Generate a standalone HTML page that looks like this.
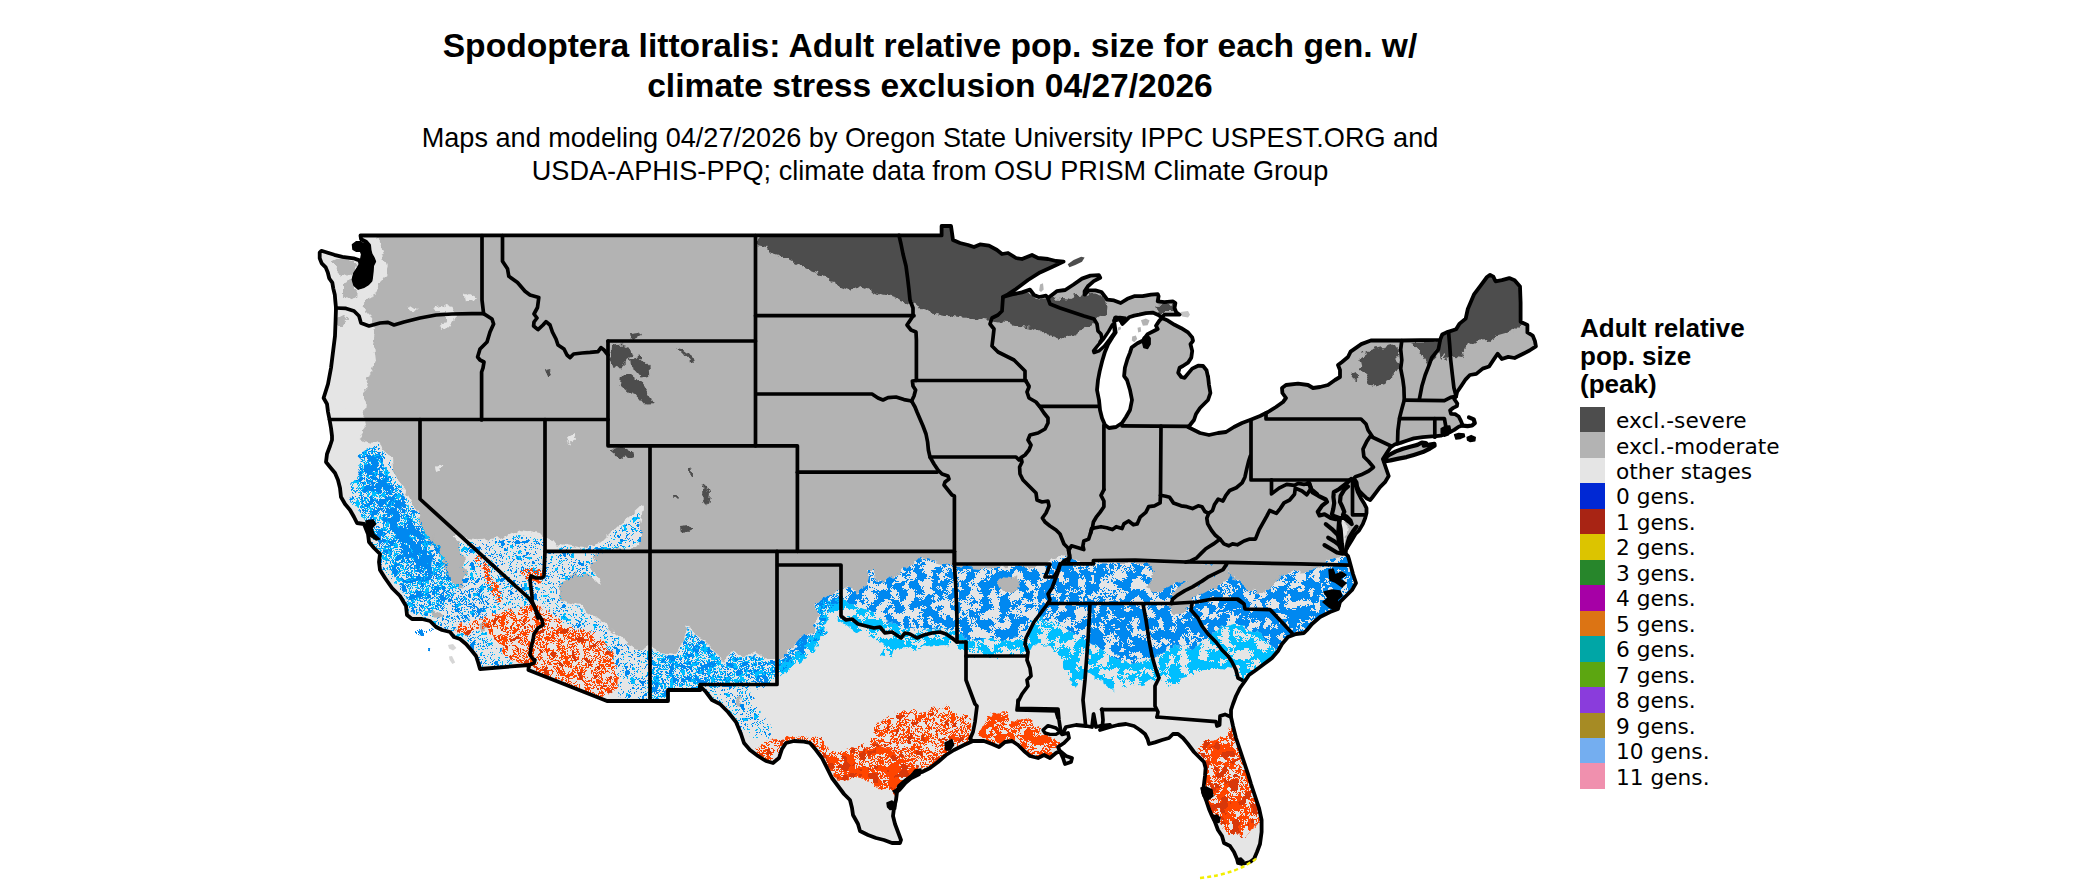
<!DOCTYPE html>
<html><head><meta charset="utf-8"><title>Spodoptera littoralis</title>
<style>
html,body{margin:0;padding:0;background:#fff}
body{width:2100px;height:892px;position:relative;overflow:hidden;font-family:"Liberation Sans",sans-serif;color:#000}
.t{position:absolute;left:330px;width:1200px;text-align:center;white-space:nowrap}
.title{font-weight:bold;font-size:33.6px;line-height:40px;top:26px}
.sub{font-size:27.1px;line-height:32.5px;top:122px}
.lt{position:absolute;left:1580px;top:314px;font-weight:bold;font-size:26px;line-height:28px;white-space:nowrap}
.sw{position:absolute;left:1580px;width:25px;height:25.77px}
.lb{position:absolute;left:1616px;height:25.47px;line-height:25.47px;font-family:"DejaVu Sans",sans-serif;font-size:21.7px;padding-top:1.2px;white-space:nowrap}
</style></head><body>
<div class="t title">Spodoptera littoralis: Adult relative pop. size for each gen. w/<br>climate stress exclusion 04/27/2026</div>
<div class="t sub">Maps and modeling 04/27/2026 by Oregon State University IPPC USPEST.ORG and<br>USDA-APHIS-PPQ; climate data from OSU PRISM Climate Group</div>
<svg width="2100" height="892" viewBox="0 0 2100 892" style="position:absolute;left:0;top:0"><defs><clipPath id="land"><path d="M360.5,235.5 L941.6,235.4 L941.6,226.0 L951.0,226.0 L953.0,240.0 L960.0,243.0 L968.0,245.0 L974.0,247.0 L980.0,244.4 L989.0,245.6 L997.0,250.0 L1002.0,254.0 L1008.0,253.0 L1016.0,258.0 L1022.0,259.0 L1032.0,255.0 L1038.0,258.0 L1048.0,259.0 L1056.0,261.0 L1063.6,261.6 L1052.0,267.0 L1040.0,272.4 L1028.0,280.0 L1016.0,289.0 L1008.0,294.4 L1003.0,297.0 L1012.0,294.4 L1022.0,292.4 L1030.0,289.6 L1034.0,295.0 L1039.0,297.0 L1046.0,295.6 L1048.0,298.0 L1056.8,291.2 L1065.2,290.0 L1073.6,284.5 L1082.0,278.6 L1090.4,275.6 L1098.9,275.2 L1100.2,277.7 L1093.8,281.1 L1087.9,286.2 L1084.6,291.2 L1084.6,294.6 L1088.8,290.4 L1095.5,290.4 L1101.4,292.0 L1104.7,296.2 L1107.3,299.6 L1114.0,300.4 L1120.7,303.0 L1127.4,298.8 L1134.2,296.2 L1142.6,296.2 L1151.0,294.6 L1157.7,294.1 L1158.6,296.2 L1157.7,301.3 L1164.4,302.1 L1172.8,301.3 L1175.4,303.0 L1174.5,308.0 L1176.2,312.2 L1179.6,314.7 L1172.8,314.7 L1164.4,314.7 L1161.9,317.3 L1157.7,314.7 L1152.7,312.6 L1145.9,313.1 L1139.2,314.7 L1134.2,315.6 L1129.1,317.3 L1125.8,320.6 L1122.4,324.0 L1119.9,318.1 L1115.7,317.3 L1114.0,320.6 L1115.7,332.4 L1112.3,337.4 L1108.1,344.2 L1104.7,352.6 L1102.2,361.0 L1099.7,371.1 L1098.0,380.0 L1097.0,390.0 L1099.0,400.0 L1100.0,410.0 L1102.0,418.0 L1105.0,425.0 L1109.0,428.0 L1116.0,427.0 L1122.0,423.0 L1126.0,417.0 L1130.0,410.0 L1132.0,400.0 L1130.0,390.0 L1127.0,380.0 L1124.1,376.1 L1124.9,367.7 L1127.4,359.3 L1130.0,352.6 L1131.6,347.5 L1137.5,343.3 L1142.6,340.8 L1147.6,334.1 L1154.3,330.7 L1157.7,329.0 L1156.0,325.7 L1159.4,320.6 L1161.9,318.1 L1167.8,320.6 L1174.5,324.8 L1181.3,328.2 L1188.0,332.4 L1192.2,337.4 L1193.0,340.8 L1190.5,344.2 L1192.2,350.9 L1191.3,357.6 L1188.0,362.7 L1182.9,366.0 L1179.6,367.7 L1178.2,372.8 L1181.3,377.0 L1184.6,377.8 L1188.0,373.6 L1192.2,368.6 L1198.1,365.7 L1203.1,366.0 L1206.5,370.2 L1208.2,377.8 L1208.0,376.0 L1209.0,385.0 L1210.4,393.0 L1208.0,400.0 L1204.0,404.0 L1200.0,408.0 L1196.0,414.0 L1194.0,420.0 L1190.0,425.0 L1188.0,427.0 L1194.0,430.0 L1200.0,433.0 L1209.0,435.0 L1218.0,433.0 L1226.0,432.0 L1234.0,427.0 L1242.0,423.0 L1250.0,420.0 L1260.0,416.0 L1268.0,412.0 L1276.0,407.0 L1283.0,402.0 L1286.0,398.0 L1282.4,393.0 L1282.0,388.0 L1286.0,385.0 L1298.0,383.6 L1308.0,385.0 L1313.0,388.0 L1320.0,387.0 L1328.0,385.0 L1335.0,380.0 L1340.0,377.0 L1340.0,370.0 L1338.0,365.0 L1342.0,362.0 L1348.0,357.0 L1350.6,351.6 L1361.3,344.1 L1370.9,340.5 L1401.8,340.5 L1440.1,339.9 L1442.2,334.5 L1446.5,332.4 L1456.1,329.2 L1459.3,323.9 L1465.7,318.6 L1467.8,309.0 L1471.0,301.5 L1474.2,294.1 L1480.6,285.6 L1487.0,277.0 L1490.1,274.9 L1493.3,276.6 L1495.5,281.3 L1501.9,280.2 L1509.3,278.1 L1514.6,280.2 L1520.0,286.6 L1520.6,302.6 L1520.6,321.8 L1527.4,325.0 L1527.4,332.4 L1532.7,335.6 L1534.9,340.9 L1535.9,346.3 L1529.5,350.5 L1523.2,353.7 L1514.6,358.0 L1508.2,356.9 L1501.9,359.0 L1497.6,353.7 L1493.3,360.1 L1489.1,366.5 L1482.7,368.6 L1476.3,373.9 L1469.9,375.0 L1465.7,379.3 L1461.4,385.7 L1457.1,392.0 L1456.1,396.3 L1454.2,399.0 L1457.3,403.5 L1456.9,406.1 L1453.3,407.9 L1450.1,410.2 L1451.0,413.8 L1455.1,414.2 L1458.7,416.5 L1460.9,420.9 L1462.7,425.4 L1458.7,426.8 L1454.2,429.9 L1449.7,432.2 L1445.2,433.9 L1440.7,435.7 L1436.2,436.2 L1431.7,436.4 L1422.8,437.1 L1413.8,438.4 L1406.6,440.7 L1400.4,442.9 L1395.0,444.3 L1390.5,447.4 L1386.9,452.8 L1382.9,459.1 L1383.0,459.5 L1388.7,476.0 L1385.0,482.2 L1380.0,487.1 L1376.3,492.1 L1372.6,497.0 L1370.2,500.1 L1366.5,498.2 L1362.8,494.5 L1359.1,490.8 L1357.2,486.5 L1356.6,482.2 L1354.1,478.5 L1355.4,484.7 L1357.8,492.1 L1360.9,498.2 L1364.0,503.2 L1366.5,508.1 L1366.5,513.0 L1365.2,518.0 L1362.8,524.1 L1359.1,530.3 L1355.4,534.0 L1351.7,540.2 L1348.0,546.3 L1346.1,549.4 L1345.5,553.7 L1348.0,556.2 L1349.2,559.9 L1353.0,574.0 L1356.0,583.0 L1352.0,590.0 L1346.0,596.0 L1340.0,602.0 L1338.0,609.0 L1330.0,612.0 L1320.0,617.0 L1312.0,624.0 L1307.0,630.0 L1304.0,633.0 L1296.0,634.0 L1288.0,637.0 L1282.0,644.0 L1278.0,651.0 L1272.0,658.0 L1264.0,664.0 L1256.0,670.0 L1249.0,675.0 L1245.0,681.0 L1240.0,688.0 L1236.0,696.0 L1233.0,704.0 L1231.0,710.0 L1231.0,717.0 L1233.0,726.0 L1236.0,738.0 L1240.0,750.0 L1244.0,762.0 L1248.0,774.0 L1251.0,784.0 L1255.0,796.0 L1259.0,808.0 L1261.6,820.0 L1261.6,832.0 L1260.0,844.0 L1257.0,852.0 L1254.0,859.0 L1250.0,862.0 L1242.0,864.0 L1238.0,863.0 L1237.0,859.0 L1234.0,852.0 L1230.0,846.0 L1224.0,843.0 L1222.0,836.0 L1218.0,830.0 L1215.0,822.0 L1212.0,816.0 L1209.0,809.0 L1206.0,800.0 L1203.0,792.0 L1204.0,784.0 L1205.0,776.0 L1205.6,768.0 L1204.0,762.0 L1199.0,757.0 L1194.0,752.0 L1188.0,744.0 L1183.0,738.0 L1178.0,734.0 L1173.0,734.0 L1169.0,738.0 L1162.0,740.0 L1155.0,742.4 L1149.0,744.0 L1147.6,739.0 L1145.0,734.0 L1140.0,730.0 L1134.0,726.0 L1126.0,724.0 L1118.0,725.0 L1110.0,727.0 L1100.0,730.0 L1110.0,725.0 L1100.0,726.0 L1096.0,727.0 L1093.6,714.0 L1092.0,727.0 L1086.0,726.0 L1076.0,725.0 L1066.0,727.0 L1062.0,734.4 L1068.0,733.0 L1069.0,738.0 L1064.0,743.0 L1058.0,747.0 L1063.0,758.0 L1065.0,764.0 L1071.0,762.0 L1072.0,758.0 L1066.0,756.0 L1060.0,751.0 L1056.0,753.0 L1050.0,758.0 L1044.0,755.0 L1038.0,758.0 L1030.0,756.0 L1024.0,751.0 L1018.0,745.0 L1012.0,741.0 L1005.0,742.0 L999.0,747.0 L992.0,744.0 L984.0,741.0 L973.0,741.0 L964.0,745.0 L954.0,750.0 L946.0,755.0 L938.0,762.0 L930.0,768.0 L922.0,772.0 L913.0,775.0 L906.0,780.0 L899.0,786.0 L897.0,792.0 L896.0,800.0 L894.0,808.0 L893.0,816.0 L895.0,824.0 L898.0,832.0 L901.0,840.0 L900.0,843.0 L892.0,843.0 L884.0,840.0 L876.0,838.0 L868.0,835.0 L860.0,831.0 L858.0,824.0 L853.0,815.0 L852.0,808.0 L850.0,800.0 L844.0,794.0 L838.0,786.0 L832.0,778.0 L827.0,768.0 L822.0,758.0 L816.0,750.0 L810.0,743.0 L804.0,741.6 L794.0,741.0 L786.0,743.0 L782.0,749.0 L779.0,758.0 L773.0,763.0 L766.0,761.0 L758.0,756.0 L750.0,750.0 L744.0,743.0 L741.0,734.0 L736.0,722.0 L728.0,712.0 L720.0,704.0 L712.0,700.0 L706.0,692.0 L700.0,686.0 L700.0,690.0 L668.0,690.0 L668.0,701.0 L607.0,701.0 L528.4,670.0 L529.0,665.0 L480.0,669.0 L478.0,662.0 L476.0,656.0 L472.0,651.0 L466.0,644.0 L460.0,639.0 L454.0,637.0 L450.0,632.0 L442.0,630.0 L436.0,627.0 L430.0,621.0 L422.0,619.0 L412.0,619.0 L407.0,615.0 L406.0,606.0 L400.0,596.0 L392.0,588.0 L385.0,578.0 L380.0,570.0 L379.0,562.0 L380.0,554.0 L374.0,548.0 L369.0,542.0 L368.0,534.0 L364.0,524.0 L357.0,523.0 L354.0,517.0 L350.0,510.0 L345.0,504.0 L341.0,497.0 L340.0,488.0 L338.0,480.0 L335.0,473.0 L330.0,467.0 L326.0,462.0 L327.0,454.0 L330.0,446.0 L332.0,440.0 L332.0,436.0 L331.0,428.0 L329.6,420.0 L328.0,412.0 L327.0,404.0 L323.6,398.0 L328.0,384.0 L331.0,368.0 L333.0,352.0 L335.0,336.0 L335.6,320.0 L336.0,308.0 L335.8,305.8 L335.3,300.7 L334.8,294.7 L333.3,288.6 L332.3,282.6 L329.3,278.5 L327.8,272.5 L325.7,267.4 L321.7,263.4 L319.7,258.3 L319.7,252.5 L321.4,250.8 L326.2,252.3 L334.3,254.8 L342.4,256.8 L353.5,258.3 L359.5,260.4 L360.5,264.4 L358.5,268.4 L355.0,273.5 L353.5,279.5 L355.0,284.6 L358.5,287.8 L363.6,286.1 L367.6,283.6 L370.6,280.5 L371.2,276.5 L371.9,270.5 L372.2,265.4 L374.2,261.4 L372.9,258.3 L370.6,254.3 L369.6,250.3 L369.1,245.2 L366.1,241.7 L361.1,239.2 L360.5,235.6Z"/><path d="M1386.9,456.4 L1389.6,454.6 L1395.9,451.4 L1403.0,448.7 L1410.2,446.7 L1417.4,444.9 L1421.9,442.5 L1425.9,443.1 L1423.7,445.6 L1428.2,444.9 L1434.4,443.8 L1434.6,445.8 L1430.0,448.5 L1422.8,452.1 L1413.8,454.9 L1406.6,457.1 L1398.6,458.6 L1390.5,460.4 L1384.2,461.3Z"/></clipPath><filter id="rag" filterUnits="userSpaceOnUse" x="300" y="200" width="1300" height="692" color-interpolation-filters="sRGB"><feTurbulence type="fractalNoise" baseFrequency="0.11" numOctaves="3" seed="11" result="t"/><feDisplacementMap in="SourceGraphic" in2="t" scale="9" xChannelSelector="R" yChannelSelector="G"/></filter><filter id="nBlue" filterUnits="userSpaceOnUse" x="300" y="200" width="1300" height="692" color-interpolation-filters="sRGB"><feTurbulence type="fractalNoise" baseFrequency="0.11" numOctaves="3" seed="11" result="t"/><feDisplacementMap in="SourceGraphic" in2="t" scale="9" xChannelSelector="R" yChannelSelector="G" result="sg"/><feTurbulence type="fractalNoise" baseFrequency="0.105" numOctaves="3" seed="5" result="n"/><feColorMatrix in="n" type="matrix" values="0 0 0 0 0  0 0 0 0 0  0 0 0 0 0  1 0 0 0 0" result="a"/><feComponentTransfer in="a" result="m"><feFuncA type="discrete" tableValues="0 0 0 0 0 0 0 0 0 0 0 0 0 0 0 0 0 0 0 0 0 0 0 0 0 0 0 1 0 0 1 0 0 1 1 1 1 1 1 1 1 1 1 1 1 1 1 1 1 1 1 1 1 1 1 1 1 1 1 1 1 1 1 1"/></feComponentTransfer><feComposite in="sg" in2="m" operator="in"/></filter><filter id="nBlueE" filterUnits="userSpaceOnUse" x="300" y="200" width="1300" height="692" color-interpolation-filters="sRGB"><feTurbulence type="fractalNoise" baseFrequency="0.11" numOctaves="3" seed="11" result="t"/><feDisplacementMap in="SourceGraphic" in2="t" scale="9" xChannelSelector="R" yChannelSelector="G" result="sg"/><feTurbulence type="fractalNoise" baseFrequency="0.1" numOctaves="3" seed="99" result="n"/><feColorMatrix in="n" type="matrix" values="0 0 0 0 0  0 0 0 0 0  0 0 0 0 0  1 0 0 0 0" result="a"/><feComponentTransfer in="a" result="m"><feFuncA type="discrete" tableValues="0 0 0 0 0 0 0 0 0 0 0 0 0 0 0 0 0 0 0 0 0 0 0 0 0 0 0 0 0 0 0 0 0 0 1 1 1 1 1 1 1 1 1 1 1 1 1 1 1 1 1 1 1 1 1 1 1 1 1 1 1 1 1 1"/></feComponentTransfer><feComposite in="sg" in2="m" operator="in"/></filter><filter id="nCyan" filterUnits="userSpaceOnUse" x="300" y="200" width="1300" height="692" color-interpolation-filters="sRGB"><feTurbulence type="fractalNoise" baseFrequency="0.11" numOctaves="3" seed="11" result="t"/><feDisplacementMap in="SourceGraphic" in2="t" scale="9" xChannelSelector="R" yChannelSelector="G" result="sg"/><feTurbulence type="fractalNoise" baseFrequency="0.1" numOctaves="3" seed="23" result="n"/><feColorMatrix in="n" type="matrix" values="0 0 0 0 0  0 0 0 0 0  0 0 0 0 0  1 0 0 0 0" result="a"/><feComponentTransfer in="a" result="m"><feFuncA type="discrete" tableValues="0 0 0 0 0 0 0 0 0 0 0 0 0 0 0 0 0 0 0 0 0 0 0 0 0 0 1 0 0 1 0 0 1 1 1 1 1 1 1 1 1 1 1 1 1 1 1 1 1 1 1 1 1 1 1 1 1 1 1 1 1 1 1 1"/></feComponentTransfer><feComposite in="sg" in2="m" operator="in"/></filter><filter id="nDense" filterUnits="userSpaceOnUse" x="300" y="200" width="1300" height="692" color-interpolation-filters="sRGB"><feTurbulence type="fractalNoise" baseFrequency="0.11" numOctaves="3" seed="11" result="t"/><feDisplacementMap in="SourceGraphic" in2="t" scale="9" xChannelSelector="R" yChannelSelector="G" result="sg"/><feTurbulence type="fractalNoise" baseFrequency="0.11" numOctaves="3" seed="61" result="n"/><feColorMatrix in="n" type="matrix" values="0 0 0 0 0  0 0 0 0 0  0 0 0 0 0  1 0 0 0 0" result="a"/><feComponentTransfer in="a" result="m"><feFuncA type="discrete" tableValues="0 0 0 0 0 0 0 0 0 0 0 0 0 0 0 0 0 0 0 0 0 0 0 0 0 0 0 1 0 0 0 1 1 1 1 1 1 1 1 1 1 1 1 1 1 1 1 1 1 1 1 1 1 1 1 1 1 1 1 1 1 1 1 1"/></feComponentTransfer><feComposite in="sg" in2="m" operator="in"/></filter><filter id="nFil" filterUnits="userSpaceOnUse" x="300" y="200" width="1300" height="692" color-interpolation-filters="sRGB"><feTurbulence type="fractalNoise" baseFrequency="0.11" numOctaves="3" seed="11" result="t"/><feDisplacementMap in="SourceGraphic" in2="t" scale="9" xChannelSelector="R" yChannelSelector="G" result="sg"/><feTurbulence type="fractalNoise" baseFrequency="0.13" numOctaves="2" seed="41" result="n"/><feColorMatrix in="n" type="matrix" values="0 0 0 0 0  0 0 0 0 0  0 0 0 0 0  1 0 0 0 0" result="a"/><feComponentTransfer in="a" result="m"><feFuncA type="discrete" tableValues="0 0 0 0 0 0 0 0 0 0 0 0 0 0 0 0 0 0 0 0 0 0 0 0 0 0 0 0 0 1 0 0 0 1 1 0 0 0 0 0 1 1 1 1 1 1 1 1 1 1 1 1 1 1 1 1 1 1 1 1 1 1 1 1"/></feComponentTransfer><feComposite in="sg" in2="m" operator="in"/></filter><filter id="nFil2" filterUnits="userSpaceOnUse" x="300" y="200" width="1300" height="692" color-interpolation-filters="sRGB"><feTurbulence type="fractalNoise" baseFrequency="0.11" numOctaves="3" seed="11" result="t"/><feDisplacementMap in="SourceGraphic" in2="t" scale="9" xChannelSelector="R" yChannelSelector="G" result="sg"/><feTurbulence type="fractalNoise" baseFrequency="0.13" numOctaves="2" seed="77" result="n"/><feColorMatrix in="n" type="matrix" values="0 0 0 0 0  0 0 0 0 0  0 0 0 0 0  1 0 0 0 0" result="a"/><feComponentTransfer in="a" result="m"><feFuncA type="discrete" tableValues="0 0 0 0 0 0 0 0 0 0 0 0 0 0 0 0 0 0 0 0 0 0 0 0 0 0 0 0 0 1 1 0 0 0 1 1 0 0 0 0 0 1 1 1 1 1 1 1 1 1 1 1 1 1 1 1 1 1 1 1 1 1 1 1"/></feComponentTransfer><feComposite in="sg" in2="m" operator="in"/></filter><filter id="nSp" filterUnits="userSpaceOnUse" x="300" y="200" width="1300" height="692" color-interpolation-filters="sRGB"><feTurbulence type="fractalNoise" baseFrequency="0.11" numOctaves="3" seed="11" result="t"/><feDisplacementMap in="SourceGraphic" in2="t" scale="9" xChannelSelector="R" yChannelSelector="G" result="sg"/><feTurbulence type="fractalNoise" baseFrequency="0.13" numOctaves="2" seed="141" result="n"/><feColorMatrix in="n" type="matrix" values="0 0 0 0 0  0 0 0 0 0  0 0 0 0 0  1 0 0 0 0" result="a"/><feComponentTransfer in="a" result="m"><feFuncA type="discrete" tableValues="0 0 0 0 0 0 0 0 0 0 0 0 0 0 0 0 0 0 0 0 0 0 0 0 0 0 0 0 0 0 1 0 0 0 0 1 0 0 0 0 0 0 0 0 1 1 1 1 1 1 1 1 1 1 1 1 1 1 1 1 1 1 1 1"/></feComponentTransfer><feComposite in="sg" in2="m" operator="in"/></filter><filter id="nSp2" filterUnits="userSpaceOnUse" x="300" y="200" width="1300" height="692" color-interpolation-filters="sRGB"><feTurbulence type="fractalNoise" baseFrequency="0.11" numOctaves="3" seed="11" result="t"/><feDisplacementMap in="SourceGraphic" in2="t" scale="9" xChannelSelector="R" yChannelSelector="G" result="sg"/><feTurbulence type="fractalNoise" baseFrequency="0.13" numOctaves="2" seed="177" result="n"/><feColorMatrix in="n" type="matrix" values="0 0 0 0 0  0 0 0 0 0  0 0 0 0 0  1 0 0 0 0" result="a"/><feComponentTransfer in="a" result="m"><feFuncA type="discrete" tableValues="0 0 0 0 0 0 0 0 0 0 0 0 0 0 0 0 0 0 0 0 0 0 0 0 0 0 0 0 0 0 1 0 0 0 0 0 0 0 0 0 0 0 0 0 1 1 1 1 1 1 1 1 1 1 1 1 1 1 1 1 1 1 1 1"/></feComponentTransfer><feComposite in="sg" in2="m" operator="in"/></filter><filter id="nOr" filterUnits="userSpaceOnUse" x="300" y="200" width="1300" height="692" color-interpolation-filters="sRGB"><feTurbulence type="fractalNoise" baseFrequency="0.11" numOctaves="3" seed="11" result="t"/><feDisplacementMap in="SourceGraphic" in2="t" scale="9" xChannelSelector="R" yChannelSelector="G" result="sg"/><feTurbulence type="fractalNoise" baseFrequency="0.14" numOctaves="2" seed="9" result="n"/><feColorMatrix in="n" type="matrix" values="0 0 0 0 0  0 0 0 0 0  0 0 0 0 0  1 0 0 0 0" result="a"/><feComponentTransfer in="a" result="m"><feFuncA type="discrete" tableValues="0 0 0 0 0 0 0 0 0 0 0 0 0 0 0 0 0 0 0 0 0 0 0 0 0 0 0 1 1 1 0 0 1 1 0 0 1 1 0 0 0 1 1 1 1 1 1 1 1 1 1 1 1 1 1 1 1 1 1 1 1 1 1 1"/></feComponentTransfer><feComposite in="sg" in2="m" operator="in"/></filter><filter id="nOrB" filterUnits="userSpaceOnUse" x="300" y="200" width="1300" height="692" color-interpolation-filters="sRGB"><feTurbulence type="fractalNoise" baseFrequency="0.11" numOctaves="3" seed="11" result="t"/><feDisplacementMap in="SourceGraphic" in2="t" scale="9" xChannelSelector="R" yChannelSelector="G" result="sg"/><feTurbulence type="fractalNoise" baseFrequency="0.09" numOctaves="3" seed="19" result="n"/><feColorMatrix in="n" type="matrix" values="0 0 0 0 0  0 0 0 0 0  0 0 0 0 0  1 0 0 0 0" result="a"/><feComponentTransfer in="a" result="m"><feFuncA type="discrete" tableValues="0 0 0 0 0 0 0 0 0 0 0 0 0 0 0 0 0 0 0 0 0 0 0 0 0 0 0 0 0 0 0 0 0 1 1 1 1 1 1 1 1 1 1 1 1 1 1 1 1 1 1 1 1 1 1 1 1 1 1 1 1 1 1 1"/></feComponentTransfer><feComposite in="sg" in2="m" operator="in"/></filter><filter id="nOrB2" filterUnits="userSpaceOnUse" x="300" y="200" width="1300" height="692" color-interpolation-filters="sRGB"><feTurbulence type="fractalNoise" baseFrequency="0.11" numOctaves="3" seed="11" result="t"/><feDisplacementMap in="SourceGraphic" in2="t" scale="9" xChannelSelector="R" yChannelSelector="G" result="sg"/><feTurbulence type="fractalNoise" baseFrequency="0.09" numOctaves="3" seed="29" result="n"/><feColorMatrix in="n" type="matrix" values="0 0 0 0 0  0 0 0 0 0  0 0 0 0 0  1 0 0 0 0" result="a"/><feComponentTransfer in="a" result="m"><feFuncA type="discrete" tableValues="0 0 0 0 0 0 0 0 0 0 0 0 0 0 0 0 0 0 0 0 0 0 0 0 0 0 0 0 0 0 0 0 0 0 0 0 1 1 1 1 1 1 1 1 1 1 1 1 1 1 1 1 1 1 1 1 1 1 1 1 1 1 1 1"/></feComponentTransfer><feComposite in="sg" in2="m" operator="in"/></filter><filter id="nOrD2" filterUnits="userSpaceOnUse" x="300" y="200" width="1300" height="692" color-interpolation-filters="sRGB"><feTurbulence type="fractalNoise" baseFrequency="0.11" numOctaves="3" seed="11" result="t"/><feDisplacementMap in="SourceGraphic" in2="t" scale="9" xChannelSelector="R" yChannelSelector="G" result="sg"/><feTurbulence type="fractalNoise" baseFrequency="0.1" numOctaves="2" seed="55" result="n"/><feColorMatrix in="n" type="matrix" values="0 0 0 0 0  0 0 0 0 0  0 0 0 0 0  1 0 0 0 0" result="a"/><feComponentTransfer in="a" result="m"><feFuncA type="discrete" tableValues="0 0 0 0 0 0 0 0 0 0 0 0 0 0 0 0 0 0 0 0 0 0 0 0 0 0 0 0 0 0 0 0 0 0 0 0 0 0 0 1 1 1 1 1 1 1 1 1 1 1 1 1 1 1 1 1 1 1 1 1 1 1 1 1"/></feComponentTransfer><feComposite in="sg" in2="m" operator="in"/></filter><filter id="nOrD" filterUnits="userSpaceOnUse" x="300" y="200" width="1300" height="692" color-interpolation-filters="sRGB"><feTurbulence type="fractalNoise" baseFrequency="0.11" numOctaves="3" seed="11" result="t"/><feDisplacementMap in="SourceGraphic" in2="t" scale="9" xChannelSelector="R" yChannelSelector="G" result="sg"/><feTurbulence type="fractalNoise" baseFrequency="0.14" numOctaves="2" seed="91" result="n"/><feColorMatrix in="n" type="matrix" values="0 0 0 0 0  0 0 0 0 0  0 0 0 0 0  1 0 0 0 0" result="a"/><feComponentTransfer in="a" result="m"><feFuncA type="discrete" tableValues="0 0 0 0 0 0 0 0 0 0 0 0 0 0 0 0 0 0 0 0 0 0 0 0 0 0 0 0 0 0 0 0 0 0 0 0 0 0 0 0 0 0 0 1 1 1 1 1 1 1 1 1 1 1 1 1 1 1 1 1 1 1 1 1"/></feComponentTransfer><feComposite in="sg" in2="m" operator="in"/></filter></defs><g clip-path="url(#land)"><rect x="300" y="200" width="1300" height="692" fill="#b3b3b3"/><g filter="url(#rag)"><path d="M374.7,225.0 L380.7,246.0 L382.7,254.0 L386.8,266.0 L383.8,276.5 L378.7,284.6 L372.7,294.7 L364.6,306.8 L366.0,312.0 L372.0,318.0 L376.0,330.0 L374.0,344.0 L376.0,360.0 L370.0,376.0 L364.0,388.0 L366.0,404.0 L364.0,420.0 L366.0,428.0 L360.0,436.0 L366.0,440.0 L380.0,444.0 L386.0,452.0 L392.0,460.0 L394.0,472.0 L398.0,480.0 L408.0,494.0 L416.0,510.0 L420.0,524.0 L425.0,534.0 L432.0,543.0 L440.0,555.0 L445.0,570.0 L451.0,583.0 L460.0,590.0 L466.0,574.0 L463.0,556.0 L458.0,542.0 L452.0,536.0 L456.0,536.0 L480.0,540.0 L500.0,538.0 L520.0,530.0 L540.0,534.0 L545.0,540.0 L560.0,544.0 L584.0,548.0 L604.0,540.0 L620.0,524.0 L640.0,506.0 L644.0,508.0 L640.0,524.0 L640.0,540.0 L638.0,546.0 L620.0,549.0 L600.0,552.0 L590.0,564.0 L600.0,580.0 L602.0,588.0 L590.0,576.0 L576.0,572.0 L560.0,584.0 L558.0,600.0 L580.0,606.0 L600.0,620.0 L616.0,634.0 L630.0,646.0 L640.0,650.0 L650.0,646.0 L660.0,652.0 L676.0,654.0 L684.0,640.0 L688.0,624.0 L696.0,636.0 L704.0,640.0 L716.0,652.0 L724.0,664.0 L732.0,650.0 L744.0,658.0 L756.0,652.0 L768.0,660.0 L778.0,660.0 L788.0,652.0 L800.0,638.0 L814.0,630.0 L818.0,616.0 L814.0,606.0 L824.0,600.0 L832.0,594.0 L841.0,590.0 L848.0,588.0 L860.0,592.0 L866.0,580.0 L868.0,570.0 L874.0,570.0 L876.0,582.0 L886.0,580.0 L896.0,576.0 L908.0,566.0 L920.0,560.0 L932.0,562.0 L944.0,564.0 L956.0,566.0 L980.0,568.0 L1010.0,566.0 L1040.0,566.0 L1050.0,560.0 L1060.0,556.0 L1070.0,560.0 L1090.0,562.0 L1120.0,563.0 L1226.0,563.0 L1231.0,573.0 L1240.0,585.0 L1250.0,592.0 L1255.0,589.0 L1263.0,594.0 L1273.0,585.0 L1280.0,577.0 L1288.0,573.0 L1300.0,571.5 L1310.0,571.0 L1325.0,563.0 L1332.0,558.0 L1346.0,552.0 L1370.0,548.0 L1370.0,900.0 L300.0,900.0 L300.0,225.0Z" fill="#e5e5e5"/><path d="M464.0,296.0 L470.0,293.0 L476.0,296.0 L472.0,301.0 L465.0,301.0Z" fill="#e5e5e5"/><path d="M407.0,308.0 L413.0,306.0 L418.0,309.0 L413.0,313.0Z" fill="#e5e5e5"/><path d="M432.0,308.0 L440.0,305.0 L452.0,308.0 L456.0,316.0 L450.0,326.0 L443.0,331.0 L440.0,326.0 L446.0,318.0 L446.0,312.0 L438.0,312.0Z" fill="#e5e5e5"/><path d="M568.0,436.0 L574.0,433.0 L577.0,441.0 L571.0,444.0Z" fill="#e5e5e5"/><path d="M436.0,466.0 L441.0,464.0 L442.0,470.0 L437.0,472.0Z" fill="#e5e5e5"/><path d="M338.0,411.0 L345.0,408.0 L348.0,415.0 L341.0,418.0Z" fill="#e5e5e5"/><path d="M1340.0,518.6 L1344.3,519.2 L1346.7,525.4 L1346.1,534.0 L1344.3,543.9 L1343.0,551.3 L1341.2,546.3 L1340.6,534.0Z" fill="#e5e5e5"/><path d="M1147.0,562.0 L1226.8,563.9 L1223.0,569.7 L1207.7,577.3 L1192.5,586.8 L1177.3,595.4 L1171.5,603.0 L1173.4,592.5 L1181.0,586.8 L1188.7,581.1 L1173.4,584.9 L1162.0,590.6 L1154.4,592.5 L1146.7,588.7 L1152.5,581.1 L1154.4,573.4 L1148.7,565.8Z" fill="#b3b3b3"/><path d="M1226.0,564.0 L1224.0,570.0 L1208.0,579.0 L1190.0,589.0 L1172.0,599.0 L1168.0,606.0 L1174.0,613.0 L1184.0,612.0 L1190.0,606.0 L1194.0,598.0 L1206.0,592.0 L1220.0,584.0 L1232.0,576.0Z" fill="#b3b3b3"/><path d="M412.0,504.0 L421.0,517.0 L425.0,529.5 L434.0,536.0 L440.0,546.5 L446.5,559.0 L451.0,576.0 L459.0,586.0 L464.0,576.0 L462.0,559.0 L460.0,546.5 L456.0,540.0 L452.0,536.0 L459.0,531.6 L452.0,523.0 L440.0,512.0 L428.0,502.0Z" fill="#b3b3b3"/><path d="M996.0,580.0 L1004.0,576.0 L1016.0,578.0 L1021.0,584.0 L1016.0,592.0 L1004.0,592.0 L997.0,588.0Z" fill="#b3b3b3"/><path d="M334.0,262.0 L342.0,258.0 L352.0,259.0 L357.0,266.0 L355.0,274.0 L347.0,277.0 L339.0,273.0Z" fill="#b3b3b3"/><path d="M343.0,284.0 L350.0,281.0 L356.0,286.0 L355.0,297.0 L348.0,300.0 L343.0,294.0Z" fill="#b3b3b3"/><path d="M337.0,318.0 L343.0,315.0 L347.0,320.0 L343.0,326.0 L338.0,324.0Z" fill="#b3b3b3"/><path d="M432.0,612.0 L440.0,610.0 L443.0,615.0 L436.0,618.0Z" fill="#b3b3b3"/><path d="M478.0,624.0 L486.0,622.0 L490.0,628.0 L482.0,631.0Z" fill="#b3b3b3"/><path d="M736.0,700.0 L741.0,697.0 L744.0,703.0 L739.0,707.0Z" fill="#b3b3b3"/><path d="M755.5,225.0 L757.0,245.0 L766.0,247.0 L772.0,253.0 L782.0,256.0 L796.0,263.0 L806.0,268.0 L818.0,272.4 L828.0,279.0 L840.0,286.0 L850.0,290.0 L860.0,286.0 L868.0,289.0 L880.0,295.0 L892.0,297.0 L904.0,301.0 L912.0,304.0 L920.0,308.0 L932.0,312.0 L946.0,315.0 L960.0,317.0 L970.0,319.0 L982.0,319.6 L990.0,321.0 L996.0,322.0 L1008.0,323.0 L1020.0,326.0 L1032.0,328.0 L1044.0,334.0 L1056.0,337.0 L1064.0,340.0 L1072.0,335.0 L1080.0,332.0 L1090.0,326.0 L1098.9,316.4 L1105.6,313.9 L1106.4,305.5 L1103.9,298.8 L1098.9,293.7 L1090.4,292.9 L1083.7,295.4 L1076.2,296.2 L1070.3,299.6 L1056.8,298.8 L1048.0,298.4 L1040.0,298.4 L1032.0,297.0 L1028.0,293.0 L1020.0,290.0 L1012.0,296.0 L1068.0,265.0 L1078.0,258.0 L1078.0,225.0Z" fill="#4d4d4d"/><path d="M1433.7,313.2 L1446.5,333.5 L1449.0,345.2 L1450.3,355.8 L1452.9,355.8 L1461.4,356.9 L1467.8,345.2 L1476.3,340.9 L1489.1,339.9 L1497.6,335.6 L1508.2,332.4 L1516.8,328.2 L1521.0,323.9 L1531.7,321.8 L1531.7,268.5 L1433.7,268.5Z" fill="#4d4d4d"/><path d="M1412.4,342.0 L1440.1,340.9 L1442.2,334.5 L1447.6,332.8 L1449.0,345.2 L1450.3,355.8 L1446.5,360.1 L1444.4,353.7 L1441.2,360.1 L1438.0,351.6 L1431.6,358.0 L1427.3,364.4 L1420.9,353.7 L1414.5,345.2Z" fill="#4d4d4d"/><path d="M1359.2,358.0 L1367.7,351.6 L1378.3,347.3 L1391.1,344.1 L1397.5,347.3 L1398.6,360.1 L1397.5,370.7 L1391.1,375.0 L1385.8,383.5 L1378.3,385.7 L1369.8,383.5 L1365.6,375.0 L1361.3,366.5Z" fill="#4d4d4d"/><path d="M1350.6,373.9 L1354.9,372.4 L1358.1,376.1 L1357.0,381.0 L1352.8,380.3Z" fill="#4d4d4d"/><path d="M1154.3,305.5 L1157.7,303.8 L1171.2,303.8 L1174.5,301.3 L1176.2,307.2 L1177.1,313.1 L1167.8,313.1 L1161.1,313.1 L1156.0,310.5Z" fill="#4d4d4d"/><path d="M611.0,346.0 L620.0,344.4 L629.0,347.0 L631.6,354.4 L627.2,361.0 L620.4,367.6 L613.2,365.2 L610.4,356.4Z" fill="#4d4d4d"/><path d="M629.0,359.0 L640.4,357.6 L649.6,367.2 L650.4,377.2 L641.6,378.4 L635.2,370.8 L630.0,366.8Z" fill="#4d4d4d"/><path d="M620.8,376.0 L630.4,374.4 L641.2,382.8 L649.6,393.6 L653.6,405.2 L645.6,405.6 L637.2,395.6 L627.2,391.6 L619.6,384.8Z" fill="#4d4d4d"/><path d="M676.0,346.4 L682.0,348.0 L690.0,354.0 L693.0,363.0 L689.0,362.0 L684.0,354.0Z" fill="#4d4d4d"/><path d="M630.0,333.0 L638.0,332.0 L641.0,337.0 L634.0,340.0 L631.0,338.0Z" fill="#4d4d4d"/><path d="M545.0,370.0 L549.0,369.0 L551.0,373.0 L547.0,374.4Z" fill="#4d4d4d"/><path d="M613.0,450.0 L620.0,448.0 L632.0,450.0 L633.0,455.0 L624.0,457.0 L614.0,455.0Z" fill="#4d4d4d"/><path d="M702.0,487.0 L707.0,485.6 L710.0,492.4 L708.4,505.0 L705.6,508.0 L702.8,499.6Z" fill="#4d4d4d"/><path d="M680.0,526.0 L688.0,525.0 L692.0,530.0 L686.0,533.0 L681.0,531.0Z" fill="#4d4d4d"/><path d="M674.0,495.6 L679.6,495.0 L680.0,498.6 L674.4,499.0Z" fill="#4d4d4d"/><path d="M689.0,470.0 L691.6,469.6 L692.0,475.0 L689.6,475.6Z" fill="#4d4d4d"/></g><g filter="url(#nCyan)"><path d="M778.0,668.0 L790.0,658.0 L804.0,646.0 L816.0,632.0 L822.0,612.0 L832.0,600.0 L841.0,598.0 L856.0,606.0 L872.0,612.0 L886.0,620.0 L900.0,626.0 L920.0,630.0 L944.0,628.0 L958.0,632.0 L966.0,638.0 L1000.0,640.0 L1026.0,636.0 L1034.0,618.0 L1050.0,620.0 L1066.0,628.0 L1086.0,640.0 L1100.0,650.0 L1120.0,660.0 L1140.0,664.0 L1160.0,654.0 L1176.0,645.0 L1192.0,648.0 L1208.0,640.0 L1220.0,628.0 L1234.0,624.0 L1248.0,628.0 L1260.0,634.0 L1268.0,644.0 L1278.0,652.0 L1250.0,684.0 L1238.0,678.0 L1232.0,670.0 L1220.0,668.0 L1206.0,668.0 L1194.0,676.0 L1180.0,680.0 L1170.0,688.0 L1159.0,680.0 L1140.0,684.0 L1120.0,688.0 L1112.0,690.0 L1100.0,680.0 L1086.0,672.0 L1076.0,688.0 L1068.0,676.0 L1060.0,656.0 L1050.0,646.0 L1032.0,644.0 L1026.0,656.0 L968.0,656.0 L966.0,654.0 L956.0,648.0 L944.0,645.0 L928.0,647.0 L912.0,649.0 L895.0,647.0 L892.0,658.0 L880.0,656.0 L884.0,644.0 L872.0,637.0 L856.0,632.0 L840.0,621.0 L834.0,614.0 L827.0,620.0 L823.0,629.0 L819.0,643.0 L811.0,655.0 L802.0,663.0 L788.0,671.0 L778.0,680.0Z" fill="#00bfff"/></g><g filter="url(#nBlue)"><path d="M778.0,660.0 L788.0,652.0 L800.0,638.0 L814.0,630.0 L818.0,616.0 L814.0,606.0 L824.0,600.0 L832.0,594.0 L841.0,590.0 L848.0,588.0 L860.0,592.0 L866.0,580.0 L868.0,570.0 L874.0,570.0 L876.0,582.0 L886.0,580.0 L896.0,576.0 L908.0,566.0 L920.0,560.0 L932.0,562.0 L944.0,564.0 L956.0,566.0 L980.0,568.0 L1010.0,566.0 L1040.0,566.0 L1050.0,560.0 L1060.0,556.0 L1070.0,560.0 L1090.0,562.0 L1120.0,563.0 L1226.0,563.0 L1231.0,573.0 L1240.0,585.0 L1250.0,592.0 L1255.0,589.0 L1263.0,594.0 L1273.0,585.0 L1280.0,577.0 L1288.0,573.0 L1300.0,571.5 L1310.0,571.0 L1325.0,563.0 L1332.0,558.0 L1346.0,552.0 L1370.0,548.0 L1370.0,640.0 L1292.0,654.0 L1278.0,652.0 L1268.0,644.0 L1260.0,634.0 L1248.0,628.0 L1234.0,624.0 L1220.0,628.0 L1208.0,640.0 L1192.0,648.0 L1176.0,645.0 L1160.0,654.0 L1140.0,664.0 L1120.0,660.0 L1100.0,650.0 L1086.0,640.0 L1066.0,628.0 L1050.0,620.0 L1034.0,618.0 L1026.0,636.0 L1000.0,640.0 L966.0,638.0 L958.0,632.0 L944.0,628.0 L920.0,630.0 L900.0,626.0 L886.0,620.0 L872.0,612.0 L856.0,606.0 L841.0,598.0 L832.0,600.0 L822.0,612.0 L816.0,632.0 L804.0,646.0 L790.0,658.0 L778.0,668.0Z" fill="#0088f0"/></g><g filter="url(#nBlueE)"><path d="M1092.0,606.0 L1120.0,600.0 L1146.0,604.0 L1172.0,606.0 L1196.0,600.0 L1240.0,598.0 L1262.0,600.0 L1290.0,588.0 L1320.0,572.0 L1352.0,556.0 L1370.0,556.0 L1370.0,640.0 L1292.0,652.0 L1278.0,650.0 L1268.0,642.0 L1260.0,632.0 L1248.0,626.0 L1234.0,622.0 L1220.0,626.0 L1208.0,638.0 L1192.0,646.0 L1176.0,643.0 L1160.0,652.0 L1140.0,660.0 L1120.0,656.0 L1100.0,646.0 L1090.0,638.0Z" fill="#0088f0"/><path d="M1046.0,566.0 L1062.0,560.0 L1080.0,564.0 L1100.0,566.0 L1102.0,600.0 L1086.0,606.0 L1060.0,604.0 L1044.0,596.0Z" fill="#0088f0"/></g><g filter="url(#nSp2)"><path d="M370.0,449.0 L378.0,446.0 L388.0,456.0 L396.0,474.0 L404.0,492.0 L412.0,508.0 L418.0,524.0 L430.0,536.0 L440.0,550.0 L446.0,568.0 L452.0,582.0 L462.0,584.0 L458.0,560.0 L452.0,542.0 L470.0,542.0 L500.0,540.0 L520.0,534.0 L544.0,538.0 L545.0,556.0 L538.0,580.0 L540.0,600.0 L532.0,601.0 L520.0,612.0 L500.0,612.0 L484.0,618.0 L468.0,622.0 L456.0,626.0 L460.0,634.0 L476.0,632.0 L488.0,630.0 L492.0,640.0 L500.0,648.0 L504.0,656.0 L510.0,662.0 L529.0,666.0 L528.0,670.0 L480.0,669.0 L470.0,650.0 L450.0,634.0 L420.0,620.0 L405.0,610.0 L400.0,590.0 L380.0,570.0 L370.0,540.0 L361.0,512.0 L356.0,490.0 L360.0,470.0 L365.0,455.0Z" fill="#00bfff"/><path d="M545.0,556.0 L560.0,546.0 L584.0,550.0 L604.0,542.0 L622.0,526.0 L640.0,510.0 L642.0,540.0 L620.0,550.0 L600.0,554.0 L590.0,566.0 L600.0,582.0 L590.0,578.0 L576.0,574.0 L562.0,586.0 L560.0,602.0 L580.0,608.0 L600.0,622.0 L616.0,636.0 L630.0,648.0 L650.0,650.0 L660.0,654.0 L676.0,656.0 L684.0,642.0 L688.0,628.0 L696.0,638.0 L704.0,642.0 L716.0,654.0 L724.0,666.0 L732.0,652.0 L744.0,660.0 L756.0,654.0 L768.0,662.0 L778.0,662.0 L778.0,678.0 L777.0,686.0 L750.0,688.0 L760.0,712.0 L772.0,728.0 L766.0,738.0 L752.0,738.0 L740.0,728.0 L728.0,716.0 L712.0,700.0 L700.0,688.0 L700.0,701.0 L620.0,701.0 L618.0,680.0 L612.0,656.0 L606.0,644.0 L596.0,636.0 L584.0,630.0 L572.0,628.0 L564.0,622.0 L556.0,616.0 L546.0,612.0 L540.0,600.0 L538.0,580.0Z" fill="#00bfff"/><path d="M700.0,686.0 L750.0,688.0 L760.0,712.0 L772.0,728.0 L766.0,738.0 L752.0,738.0 L740.0,728.0 L728.0,716.0 L712.0,700.0Z" fill="#00bfff"/></g><g filter="url(#nSp)"><path d="M370.0,449.0 L378.0,446.0 L388.0,456.0 L396.0,474.0 L404.0,492.0 L412.0,508.0 L418.0,524.0 L430.0,536.0 L440.0,550.0 L446.0,568.0 L452.0,582.0 L462.0,584.0 L458.0,560.0 L452.0,542.0 L470.0,542.0 L500.0,540.0 L520.0,534.0 L544.0,538.0 L545.0,556.0 L538.0,580.0 L540.0,600.0 L532.0,601.0 L520.0,612.0 L500.0,612.0 L484.0,618.0 L468.0,622.0 L456.0,626.0 L460.0,634.0 L476.0,632.0 L488.0,630.0 L492.0,640.0 L500.0,648.0 L504.0,656.0 L510.0,662.0 L529.0,666.0 L528.0,670.0 L480.0,669.0 L470.0,650.0 L450.0,634.0 L420.0,620.0 L405.0,610.0 L400.0,590.0 L380.0,570.0 L370.0,540.0 L361.0,512.0 L356.0,490.0 L360.0,470.0 L365.0,455.0Z" fill="#0088f0"/><path d="M545.0,556.0 L560.0,546.0 L584.0,550.0 L604.0,542.0 L622.0,526.0 L640.0,510.0 L642.0,540.0 L620.0,550.0 L600.0,554.0 L590.0,566.0 L600.0,582.0 L590.0,578.0 L576.0,574.0 L562.0,586.0 L560.0,602.0 L580.0,608.0 L600.0,622.0 L616.0,636.0 L630.0,648.0 L650.0,650.0 L660.0,654.0 L676.0,656.0 L684.0,642.0 L688.0,628.0 L696.0,638.0 L704.0,642.0 L716.0,654.0 L724.0,666.0 L732.0,652.0 L744.0,660.0 L756.0,654.0 L768.0,662.0 L778.0,662.0 L778.0,678.0 L777.0,686.0 L750.0,688.0 L760.0,712.0 L772.0,728.0 L766.0,738.0 L752.0,738.0 L740.0,728.0 L728.0,716.0 L712.0,700.0 L700.0,688.0 L700.0,701.0 L620.0,701.0 L618.0,680.0 L612.0,656.0 L606.0,644.0 L596.0,636.0 L584.0,630.0 L572.0,628.0 L564.0,622.0 L556.0,616.0 L546.0,612.0 L540.0,600.0 L538.0,580.0Z" fill="#0088f0"/><path d="M700.0,686.0 L750.0,688.0 L760.0,712.0 L772.0,728.0 L766.0,738.0 L752.0,738.0 L740.0,728.0 L728.0,716.0 L712.0,700.0Z" fill="#0088f0"/></g><g filter="url(#nFil2)"><path d="M360.2,452.8 L367.7,448.5 L380.5,450.6 L385.8,467.7 L394.3,482.6 L403.9,493.2 L411.3,506.0 L419.9,518.8 L424.1,531.6 L432.6,538.0 L439.0,548.6 L445.4,561.4 L449.7,578.4 L455.0,589.1 L450.7,601.9 L440.1,610.4 L425.2,614.6 L410.3,606.1 L401.8,589.1 L391.1,572.0 L382.6,555.0 L376.2,542.2 L367.7,529.4 L359.2,510.3 L348.5,497.5 L352.8,482.6 L359.2,467.7Z" fill="#00bfff"/><path d="M650.0,650.0 L660.0,654.0 L676.0,656.0 L684.0,642.0 L688.0,628.0 L696.0,638.0 L704.0,642.0 L716.0,654.0 L724.0,666.0 L732.0,652.0 L744.0,660.0 L756.0,654.0 L768.0,662.0 L778.0,662.0 L778.0,686.0 L700.0,686.0 L700.0,701.0 L650.0,701.0Z" fill="#00bfff"/><path d="M778.0,662.0 L790.0,654.0 L802.0,640.0 L816.0,632.0 L820.0,618.0 L816.0,608.0 L826.0,602.0 L834.0,596.0 L841.0,592.0 L841.0,601.0 L833.0,605.0 L825.0,613.0 L827.0,623.0 L823.0,637.0 L809.0,647.0 L797.0,661.0 L785.0,669.0 L778.0,673.0Z" fill="#00bfff"/></g><g filter="url(#nFil)"><path d="M360.2,452.8 L367.7,448.5 L380.5,450.6 L385.8,467.7 L394.3,482.6 L403.9,493.2 L411.3,506.0 L419.9,518.8 L424.1,531.6 L432.6,538.0 L439.0,548.6 L445.4,561.4 L449.7,578.4 L455.0,589.1 L450.7,601.9 L440.1,610.4 L425.2,614.6 L410.3,606.1 L401.8,589.1 L391.1,572.0 L382.6,555.0 L376.2,542.2 L367.7,529.4 L359.2,510.3 L348.5,497.5 L352.8,482.6 L359.2,467.7Z" fill="#0088f0"/><path d="M650.0,650.0 L660.0,654.0 L676.0,656.0 L684.0,642.0 L688.0,628.0 L696.0,638.0 L704.0,642.0 L716.0,654.0 L724.0,666.0 L732.0,652.0 L744.0,660.0 L756.0,654.0 L768.0,662.0 L778.0,662.0 L778.0,686.0 L700.0,686.0 L700.0,701.0 L650.0,701.0Z" fill="#0088f0"/><path d="M450.7,597.6 L459.3,589.1 L472.0,587.0 L484.8,593.3 L487.0,606.1 L478.4,616.8 L463.5,618.9 L452.9,610.4Z" fill="#0088f0"/><path d="M778.0,662.0 L790.0,654.0 L802.0,640.0 L816.0,632.0 L820.0,618.0 L816.0,608.0 L826.0,602.0 L834.0,596.0 L841.0,592.0 L841.0,601.0 L833.0,605.0 L825.0,613.0 L827.0,623.0 L823.0,637.0 L809.0,647.0 L797.0,661.0 L785.0,669.0 L778.0,673.0Z" fill="#0088f0"/></g><g filter="url(#nDense)"><path d="M366.6,454.9 L375.1,454.9 L381.5,471.9 L391.1,489.0 L401.8,503.9 L412.4,525.2 L426.3,540.1 L432.6,559.3 L431.6,578.4 L425.2,582.7 L415.6,572.0 L406.0,559.3 L399.6,542.2 L389.0,525.2 L380.5,508.2 L371.9,489.0 L365.6,469.8Z" fill="#0088f0"/></g><g filter="url(#rag)"><path d="M1147.0,562.0 L1226.8,563.9 L1223.0,569.7 L1207.7,577.3 L1192.5,586.8 L1177.3,595.4 L1171.5,603.0 L1173.4,592.5 L1181.0,586.8 L1188.7,581.1 L1173.4,584.9 L1162.0,590.6 L1154.4,592.5 L1146.7,588.7 L1152.5,581.1 L1154.4,573.4 L1148.7,565.8Z" fill="#b3b3b3"/><path d="M1226.0,564.0 L1224.0,570.0 L1208.0,579.0 L1190.0,589.0 L1172.0,599.0 L1168.0,606.0 L1174.0,613.0 L1184.0,612.0 L1190.0,606.0 L1194.0,598.0 L1206.0,592.0 L1220.0,584.0 L1232.0,576.0Z" fill="#b3b3b3"/><path d="M412.0,504.0 L421.0,517.0 L425.0,529.5 L434.0,536.0 L440.0,546.5 L446.5,559.0 L451.0,576.0 L459.0,586.0 L464.0,576.0 L462.0,559.0 L460.0,546.5 L456.0,540.0 L452.0,536.0 L459.0,531.6 L452.0,523.0 L440.0,512.0 L428.0,502.0Z" fill="#b3b3b3"/><path d="M996.0,580.0 L1004.0,576.0 L1016.0,578.0 L1021.0,584.0 L1016.0,592.0 L1004.0,592.0 L997.0,588.0Z" fill="#b3b3b3"/><path d="M334.0,262.0 L342.0,258.0 L352.0,259.0 L357.0,266.0 L355.0,274.0 L347.0,277.0 L339.0,273.0Z" fill="#b3b3b3"/><path d="M343.0,284.0 L350.0,281.0 L356.0,286.0 L355.0,297.0 L348.0,300.0 L343.0,294.0Z" fill="#b3b3b3"/><path d="M337.0,318.0 L343.0,315.0 L347.0,320.0 L343.0,326.0 L338.0,324.0Z" fill="#b3b3b3"/><path d="M432.0,612.0 L440.0,610.0 L443.0,615.0 L436.0,618.0Z" fill="#b3b3b3"/><path d="M478.0,624.0 L486.0,622.0 L490.0,628.0 L482.0,631.0Z" fill="#b3b3b3"/><path d="M736.0,700.0 L741.0,697.0 L744.0,703.0 L739.0,707.0Z" fill="#b3b3b3"/></g><g filter="url(#nOr)"><path d="M500.0,612.0 L510.0,608.0 L520.0,610.0 L528.0,606.0 L538.0,604.0 L546.0,612.0 L556.0,616.0 L564.0,622.0 L572.0,628.0 L584.0,630.0 L596.0,636.0 L606.0,644.0 L612.0,656.0 L616.0,668.0 L618.0,680.0 L614.0,692.0 L604.0,698.0 L590.0,696.0 L570.0,688.0 L550.0,680.0 L536.0,672.0 L528.0,668.0 L520.0,662.0 L510.0,660.0 L504.0,654.0 L500.0,644.0 L492.0,636.0 L488.0,628.0 L476.0,630.0 L468.0,634.0 L460.0,632.0 L456.0,626.0 L468.0,622.0 L484.0,618.0Z" fill="#ff4500"/><path d="M474.0,556.0 L479.0,554.0 L490.0,572.0 L498.0,588.0 L504.0,600.0 L499.0,602.0 L490.0,588.0 L482.0,572.0Z" fill="#ff4500"/><path d="M520.0,570.0 L534.0,566.0 L544.0,572.0 L540.0,582.0 L528.0,580.0Z" fill="#ff4500"/><path d="M756.0,748.0 L770.0,740.0 L786.0,738.0 L794.0,736.0 L808.0,738.0 L820.0,736.0 L824.0,746.0 L836.0,752.0 L848.0,750.0 L860.0,746.0 L872.0,738.0 L876.0,722.0 L886.0,720.0 L896.0,712.0 L908.0,710.0 L920.0,712.0 L932.0,710.0 L942.0,706.0 L952.0,710.0 L964.0,714.0 L970.0,720.0 L972.0,730.0 L972.0,742.0 L956.0,750.0 L944.0,758.0 L932.0,768.0 L920.0,774.0 L910.0,778.0 L900.0,786.0 L897.0,796.0 L892.0,790.0 L884.0,790.0 L876.0,788.0 L868.0,780.0 L856.0,776.0 L848.0,780.0 L840.0,782.0 L832.0,774.0 L828.0,766.0 L820.0,754.0 L812.0,746.0 L800.0,743.0 L786.0,744.0 L780.0,754.0 L772.0,762.0 L764.0,760.0 L758.0,754.0Z" fill="#ff4500"/><path d="M978.0,734.0 L988.0,720.0 L992.0,712.0 L1008.0,711.0 L1010.0,720.0 L1020.0,722.0 L1028.0,719.0 L1036.0,724.0 L1040.0,732.0 L1048.0,736.0 L1058.0,740.0 L1062.0,748.0 L1058.0,756.0 L1044.0,758.0 L1032.0,758.0 L1024.0,752.0 L1016.0,746.0 L1006.0,742.0 L998.0,748.0 L988.0,742.0Z" fill="#ff4500"/><path d="M1200.0,748.0 L1204.0,741.0 L1212.0,741.0 L1220.0,739.0 L1225.0,737.0 L1228.0,727.0 L1233.0,736.0 L1238.0,748.0 L1243.0,760.0 L1248.0,772.0 L1252.0,784.0 L1255.0,796.0 L1258.0,808.0 L1259.0,820.0 L1255.0,825.0 L1250.0,833.0 L1243.0,839.0 L1236.0,833.0 L1228.0,833.0 L1221.0,827.0 L1217.0,819.0 L1211.0,813.0 L1208.0,804.0 L1205.0,796.0 L1203.6,784.0 L1204.4,772.0 L1204.0,762.0 L1199.6,755.0Z" fill="#ff4500"/></g><g filter="url(#nOrB)"><path d="M978.0,734.0 L988.0,720.0 L992.0,712.0 L1008.0,711.0 L1010.0,720.0 L1020.0,722.0 L1028.0,719.0 L1036.0,724.0 L1040.0,732.0 L1048.0,736.0 L1058.0,740.0 L1062.0,748.0 L1058.0,756.0 L1044.0,758.0 L1032.0,758.0 L1024.0,752.0 L1016.0,746.0 L1006.0,742.0 L998.0,748.0 L988.0,742.0Z" fill="#ff4500"/><path d="M820.0,754.0 L836.0,756.0 L850.0,756.0 L862.0,752.0 L874.0,744.0 L884.0,746.0 L896.0,752.0 L908.0,760.0 L920.0,768.0 L910.0,778.0 L900.0,786.0 L897.0,796.0 L892.0,790.0 L884.0,790.0 L876.0,788.0 L868.0,780.0 L856.0,776.0 L848.0,780.0 L840.0,782.0 L832.0,774.0 L828.0,766.0Z" fill="#ff4500"/></g><g filter="url(#nOrB2)"><path d="M1200.0,748.0 L1204.0,741.0 L1212.0,741.0 L1220.0,739.0 L1225.0,737.0 L1228.0,727.0 L1233.0,736.0 L1238.0,748.0 L1243.0,760.0 L1248.0,772.0 L1252.0,784.0 L1255.0,796.0 L1258.0,808.0 L1259.0,820.0 L1255.0,825.0 L1250.0,833.0 L1243.0,839.0 L1236.0,833.0 L1228.0,833.0 L1221.0,827.0 L1217.0,819.0 L1211.0,813.0 L1208.0,804.0 L1205.0,796.0 L1203.6,784.0 L1204.4,772.0 L1204.0,762.0 L1199.6,755.0Z" fill="#ff4500"/></g><g filter="url(#nOrD)"><path d="M500.0,612.0 L510.0,608.0 L520.0,610.0 L528.0,606.0 L538.0,604.0 L546.0,612.0 L556.0,616.0 L564.0,622.0 L572.0,628.0 L584.0,630.0 L596.0,636.0 L606.0,644.0 L612.0,656.0 L616.0,668.0 L618.0,680.0 L614.0,692.0 L604.0,698.0 L590.0,696.0 L570.0,688.0 L550.0,680.0 L536.0,672.0 L528.0,668.0 L520.0,662.0 L510.0,660.0 L504.0,654.0 L500.0,644.0 L492.0,636.0 L488.0,628.0 L476.0,630.0 L468.0,634.0 L460.0,632.0 L456.0,626.0 L468.0,622.0 L484.0,618.0Z" fill="#d8380a"/><path d="M756.0,748.0 L770.0,740.0 L786.0,738.0 L794.0,736.0 L808.0,738.0 L820.0,736.0 L824.0,746.0 L836.0,752.0 L848.0,750.0 L860.0,746.0 L872.0,738.0 L876.0,722.0 L886.0,720.0 L896.0,712.0 L908.0,710.0 L920.0,712.0 L932.0,710.0 L942.0,706.0 L952.0,710.0 L964.0,714.0 L970.0,720.0 L972.0,730.0 L972.0,742.0 L956.0,750.0 L944.0,758.0 L932.0,768.0 L920.0,774.0 L910.0,778.0 L900.0,786.0 L897.0,796.0 L892.0,790.0 L884.0,790.0 L876.0,788.0 L868.0,780.0 L856.0,776.0 L848.0,780.0 L840.0,782.0 L832.0,774.0 L828.0,766.0 L820.0,754.0 L812.0,746.0 L800.0,743.0 L786.0,744.0 L780.0,754.0 L772.0,762.0 L764.0,760.0 L758.0,754.0Z" fill="#d8380a"/><path d="M1200.0,748.0 L1204.0,741.0 L1212.0,741.0 L1220.0,739.0 L1225.0,737.0 L1228.0,727.0 L1233.0,736.0 L1238.0,748.0 L1243.0,760.0 L1248.0,772.0 L1252.0,784.0 L1255.0,796.0 L1258.0,808.0 L1259.0,820.0 L1255.0,825.0 L1250.0,833.0 L1243.0,839.0 L1236.0,833.0 L1228.0,833.0 L1221.0,827.0 L1217.0,819.0 L1211.0,813.0 L1208.0,804.0 L1205.0,796.0 L1203.6,784.0 L1204.4,772.0 L1204.0,762.0 L1199.6,755.0Z" fill="#d8380a"/></g><g filter="url(#nOrD2)"><path d="M1200.0,748.0 L1204.0,741.0 L1212.0,741.0 L1220.0,739.0 L1225.0,737.0 L1228.0,727.0 L1233.0,736.0 L1238.0,748.0 L1243.0,760.0 L1248.0,772.0 L1252.0,784.0 L1255.0,796.0 L1258.0,808.0 L1259.0,820.0 L1255.0,825.0 L1250.0,833.0 L1243.0,839.0 L1236.0,833.0 L1228.0,833.0 L1221.0,827.0 L1217.0,819.0 L1211.0,813.0 L1208.0,804.0 L1205.0,796.0 L1203.6,784.0 L1204.4,772.0 L1204.0,762.0 L1199.6,755.0Z" fill="#d8380a"/><path d="M820.0,754.0 L836.0,756.0 L850.0,756.0 L862.0,752.0 L874.0,744.0 L884.0,746.0 L896.0,752.0 L908.0,760.0 L920.0,768.0 L910.0,778.0 L900.0,786.0 L897.0,796.0 L892.0,790.0 L884.0,790.0 L876.0,788.0 L868.0,780.0 L856.0,776.0 L848.0,780.0 L840.0,782.0 L832.0,774.0 L828.0,766.0Z" fill="#d8380a"/></g></g><path d="M1067.7,264.3 L1073.6,260.1 L1081.2,256.7 L1084.6,257.6 L1082.0,261.8 L1075.3,265.1 L1069.4,267.2Z" fill="#4d4d4d"/><path d="M1140.9,320.3 L1145.9,318.6 L1149.6,320.6 L1147.6,325.3 L1142.9,325.7Z" fill="#b3b3b3"/><path d="M1137.5,327.7 L1140.6,327.0 L1141.2,331.4 L1138.2,332.4Z" fill="#b3b3b3"/><path d="M1132.2,336.6 L1135.9,335.4 L1137.2,339.1 L1134.2,342.2 L1131.8,340.5Z" fill="#b3b3b3"/><path d="M1040.0,284.5 L1043.0,283.3 L1043.7,289.5 L1041.0,292.0 L1039.2,290.4Z" fill="#b3b3b3"/><path d="M1117.7,327.7 L1120.4,326.5 L1121.1,329.0 L1118.4,330.7Z" fill="#b3b3b3"/><path d="M1180.4,311.9 L1188.0,310.9 L1190.0,314.7 L1188.0,317.6 L1182.1,316.4Z" fill="#c4c4c4"/><path d="M448.0,645.0 L453.0,644.0 L456.4,648.0 L453.0,650.4 L449.0,648.4Z" fill="#d6d6d6"/><path d="M449.0,656.4 L452.0,656.0 L455.2,662.4 L452.4,664.0 L449.6,660.0Z" fill="#d6d6d6"/><g filter="url(#nFil)"><path d="M410.0,629.6 L420.0,628.0 L432.0,629.6 L431.0,633.6 L420.0,634.4 L411.0,633.0Z" fill="#0088f0"/><path d="M428.0,649.0 L431.0,648.6 L431.4,653.0 L428.4,653.4Z" fill="#0088f0"/></g><path d="M1114.0,324.8 L1114.5,332.4 L1109.8,339.1 L1104.2,346.2 L1098.9,350.9 L1094.1,352.6 L1093.5,350.9 L1097.5,345.9 L1103.6,338.8 L1108.6,331.4 L1112.3,324.8Z" fill="#fff" stroke="#000" stroke-width="3.4" stroke-linejoin="round"/><path d="M1043.0,730.0 L1048.0,725.6 L1056.0,728.0 L1060.0,732.0 L1056.0,734.4 L1050.0,734.4 L1045.0,733.0Z" fill="#fff" stroke="#000" stroke-width="3.4" stroke-linejoin="round"/><g fill="none" stroke="#000" stroke-width="3.7" stroke-linejoin="round" stroke-linecap="round"><path d="M482.0,235.5 L482.0,300.0 L483.6,313.6 L492.0,319.0 L493.6,324.0 L490.0,332.0 L487.0,342.0 L480.0,349.0 L477.6,357.0 L480.0,360.0 L484.0,362.0 L483.0,368.0 L481.6,372.0 L481.6,420.0"/><path d="M336.0,308.0 L346.0,308.4 L354.0,311.0 L359.0,316.0 L361.0,323.0 L369.0,326.0 L380.0,323.0 L388.0,322.4 L394.0,325.0 L404.0,322.0 L420.0,318.0 L436.0,315.0 L452.0,314.0 L472.0,313.6 L483.6,313.6"/><path d="M502.5,235.5 L502.5,261.2 L507.5,268.8 L508.8,276.2 L517.5,282.5 L525.0,291.2 L530.0,295.0 L538.8,297.5 L537.5,307.5 L534.0,314.0 L537.0,318.0 L534.0,322.0 L533.6,326.0 L538.0,329.6 L543.0,325.0 L546.0,321.6 L550.0,325.0 L552.4,332.0 L556.0,339.0 L558.0,345.0 L564.0,349.0 L567.0,355.0 L570.0,357.6 L573.6,354.0 L582.0,353.0 L590.0,352.4 L598.0,351.6 L601.0,347.6 L604.0,350.0 L608.0,355.0"/><path d="M755.5,235.5 L755.5,445.8"/><path d="M608.0,341.0 L755.5,341.0"/><path d="M608.0,341.0 L608.0,445.8 L797.4,445.8 L797.4,551.3"/><path d="M329.6,419.5 L608.0,419.5"/><path d="M420.0,419.5 L420.0,499.0 L532.0,601.0"/><path d="M545.0,419.5 L545.0,551.0 L544.0,576.0 L542.0,578.0 L536.0,578.0 L531.0,576.0 L530.0,580.0 L531.0,588.0 L532.0,596.0 L532.0,601.0 L535.0,608.0 L538.0,618.0"/><path d="M545.0,551.3 L954.4,551.3"/><path d="M650.0,445.8 L650.0,701.0"/><path d="M797.4,472.2 L937.0,472.2"/><path d="M777.0,551.3 L777.0,684.5 L700.0,684.5 L700.0,690.0"/><path d="M777.6,565.0 L841.0,565.0 L841.0,616.0 L846.0,620.0 L852.0,619.0 L858.0,624.0 L866.0,626.0 L874.0,628.0 L880.0,627.0 L885.0,633.0 L892.0,632.0 L898.0,636.0 L901.0,638.0 L905.0,633.0 L910.0,634.0 L917.0,638.0 L924.0,635.0 L932.0,633.0 L940.0,632.0 L946.0,634.0 L952.0,638.0 L957.0,642.0 L966.0,642.0"/><path d="M966.0,642.0 L966.0,680.0 L969.0,688.0 L972.0,696.0 L975.0,704.0 L977.0,706.0 L976.0,714.0 L975.0,722.0 L973.0,732.0 L970.0,739.0 L973.0,741.0"/><path d="M966.0,656.0 L1026.0,656.0"/><path d="M954.4,564.0 L956.0,590.0 L957.0,620.0 L957.0,642.0"/><path d="M954.4,551.3 L954.4,564.0"/><path d="M954.4,564.0 L1050.0,564.0 L1048.0,570.0 L1045.0,577.0 L1054.0,577.0 L1058.0,570.0 L1060.0,564.0"/><path d="M755.5,315.7 L914.0,315.7"/><path d="M756.0,394.0 L872.0,394.0 L878.0,398.0 L883.0,400.0 L888.0,397.6 L896.0,397.0 L904.0,399.6 L911.6,401.0"/><path d="M899.0,235.4 L901.0,244.0 L903.0,254.0 L906.0,266.0 L907.6,278.0 L909.0,290.0 L910.0,300.0 L913.0,308.0 L913.0,316.0 L909.0,322.0 L907.0,325.0 L911.0,330.0 L916.0,332.0 L916.4,340.0 L916.4,380.5 L912.4,381.0 L913.0,386.0 L915.6,390.0 L914.0,396.0 L911.6,401.0"/><path d="M916.4,380.5 L1026.0,380.5"/><path d="M911.6,401.0 L915.0,407.0 L917.0,412.0 L920.0,419.0 L923.0,426.0 L926.0,434.0 L927.6,442.0 L928.4,450.0 L930.0,457.0 L934.0,464.0 L938.0,470.0 L942.0,474.0 L948.0,476.0 L949.0,479.0 L945.0,482.0 L944.0,485.0 L948.0,490.0 L952.0,495.0 L954.4,496.0 L954.4,564.0"/><path d="M930.0,457.0 L1016.0,457.0 L1019.0,460.0 L1021.0,458.0"/><path d="M1003.0,297.0 L1002.0,311.0 L998.0,315.0 L992.0,318.0 L990.0,324.0 L994.0,329.0 L993.0,338.0 L992.0,346.0 L998.0,352.0 L1006.0,356.0 L1014.0,360.0 L1020.0,366.0 L1025.0,371.0 L1025.0,380.0 L1029.0,386.0 L1026.0,381.0 L1029.0,387.0 L1027.0,392.0 L1029.0,398.0 L1036.0,402.0 L1040.0,407.0 L1044.0,413.0 L1048.0,418.0 L1048.0,423.0 L1045.0,429.0 L1038.0,433.0 L1030.0,435.0 L1028.0,440.0 L1031.0,445.0 L1029.0,450.0 L1025.0,455.0 L1021.0,457.6 L1022.0,462.0 L1019.6,467.0 L1020.0,474.0 L1023.0,480.0 L1028.0,485.0 L1032.0,489.0 L1036.0,493.0 L1037.0,500.0 L1042.0,502.0 L1048.0,501.0 L1049.0,506.0 L1046.0,513.0 L1042.4,518.0 L1045.0,522.0 L1050.0,526.0 L1056.0,530.0 L1060.0,534.0 L1062.4,540.0 L1064.0,544.0 L1068.0,548.0 L1069.0,552.0 L1070.0,558.0 L1064.0,561.0 L1060.0,565.0 L1058.0,572.0 L1055.0,580.0 L1052.0,588.0 L1048.0,594.0 L1050.0,600.0 L1046.0,606.0 L1040.0,614.0 L1034.0,622.0 L1030.0,630.0 L1026.0,638.0 L1025.0,644.0 L1028.0,652.0 L1027.0,660.0 L1030.0,668.0 L1031.0,676.0 L1027.0,680.0 L1028.0,686.0 L1022.0,694.0 L1018.0,702.0 L1017.0,710.0 L1056.0,711.0 L1058.0,718.0"/><path d="M1048.0,298.4 L1050.0,304.0 L1060.0,308.0 L1072.0,312.0 L1084.0,316.0 L1094.0,319.0 L1097.0,324.0 L1098.0,331.0 L1101.0,334.0 L1102.0,339.0 L1100.0,342.0"/><path d="M1040.0,406.4 L1098.4,406.4"/><path d="M1103.9,489.6 L1101.0,495.3 L1103.9,501.0 L1103.9,506.7 L1100.0,512.4 L1096.2,517.2 L1093.4,522.0 L1092.4,527.7 L1090.5,533.4"/><path d="M1103.9,425.0 L1103.9,489.6"/><path d="M1160.5,495.3 L1160.1,502.9 L1154.4,505.8 L1148.7,506.7 L1145.8,512.4 L1140.1,517.2 L1137.2,523.9 L1133.4,524.8 L1128.6,521.0 L1123.9,523.9 L1122.0,528.6 L1116.2,526.7 L1112.4,529.6 L1106.7,527.7 L1101.0,526.7 L1095.3,527.7 L1091.5,528.6 L1090.5,533.4 L1088.6,539.1 L1083.8,541.0 L1082.9,545.8 L1083.8,549.6 L1078.1,547.7 L1071.5,545.8 L1068.6,550.6 L1069.5,555.3 L1068.6,561.0"/><path d="M1161.0,426.0 L1160.5,495.3"/><path d="M1160.5,495.3 L1165.8,496.2 L1169.6,497.2 L1173.4,502.9 L1181.1,505.8 L1186.8,506.7 L1192.5,508.6 L1198.2,505.8 L1202.0,506.7 L1204.9,511.5 L1208.7,513.4 L1212.5,510.5 L1214.4,504.8 L1218.2,499.1 L1223.0,501.0 L1225.9,495.3 L1229.7,490.5 L1236.3,487.7 L1242.1,482.9 L1244.9,477.2 L1246.8,468.6 L1248.7,461.0 L1250.2,456.2"/><path d="M1122.0,425.8 L1188.0,426.4"/><path d="M1208.7,513.4 L1206.8,518.2 L1207.7,523.9 L1211.6,530.5 L1215.4,535.3 L1220.1,539.1 L1213.5,543.9 L1205.8,548.7 L1201.1,553.4 L1196.3,558.2 L1190.6,561.0 L1185.8,562.0"/><path d="M1220.1,539.1 L1223.9,543.9 L1228.7,545.8 L1232.5,543.9 L1237.3,544.8 L1244.0,541.0 L1249.7,539.1 L1255.4,539.1 L1257.3,534.4 L1259.2,529.6 L1263.0,522.9 L1266.8,516.2 L1269.7,510.5 L1276.4,513.4 L1280.2,508.6 L1284.0,502.9 L1289.7,500.0 L1294.5,494.3 L1295.3,488.1 L1302.0,491.0 L1306.8,494.8 L1310.6,489.1"/><path d="M1271.5,479.9 L1271.5,493.9 L1279.1,488.1 L1286.7,484.3 L1294.4,485.3 L1298.2,483.4 L1303.9,484.3 L1309.6,483.4 L1311.5,489.1 L1317.2,493.9"/><path d="M1251.0,420.0 L1251.0,480.0 L1352.0,480.0"/><path d="M1266.0,413.0 L1266.0,419.0 L1361.0,419.0 L1366.0,424.0 L1368.0,430.0 L1372.0,436.0"/><path d="M1372.0,437.0 L1391.0,446.0"/><path d="M1370.6,435.7 L1366.8,441.4 L1363.0,449.1 L1363.9,456.7 L1368.7,461.5 L1373.5,467.2 L1368.7,471.0 L1361.1,474.8 L1355.4,476.7 L1352.5,479.9"/><path d="M1352.5,479.9 L1352.5,514.8 L1364.5,514.8"/><path d="M1401.8,340.5 L1400.7,349.4 L1401.8,360.1 L1400.7,368.6 L1402.8,379.3 L1403.9,387.8 L1404.3,400.1 L1401.8,409.1 L1399.6,417.6 L1397.9,430.4 L1397.5,443.6"/><path d="M1440.1,340.5 L1438.4,349.4 L1431.6,358.0 L1429.4,364.4 L1425.2,375.0 L1422.0,385.7 L1419.2,400.1"/><path d="M1448.6,332.4 L1449.7,345.2 L1450.7,360.1 L1452.4,375.0 L1453.9,387.8 L1456.1,396.3"/><path d="M1404.3,400.1 L1444.4,400.6 L1450.7,397.4 L1456.1,396.3"/><path d="M1399.6,418.7 L1444.4,418.7 L1446.5,430.4"/><path d="M1434.8,418.7 L1434.8,437.2"/><path d="M1062.9,563.9 L1093.4,563.9 L1093.4,560.5 L1135.3,560.1 L1185.8,562.0 L1226.8,562.4 L1300.0,563.9 L1348.4,565.2"/><path d="M1226.8,563.9 L1223.0,569.6 L1215.4,573.4 L1207.7,577.2 L1202.0,581.1 L1192.5,586.8 L1184.9,590.6 L1177.2,595.4 L1172.5,599.2 L1171.5,603.5"/><path d="M1047.6,603.5 L1171.5,603.5 L1196.3,602.0 L1211.6,599.2 L1238.2,599.2 L1244.0,603.9 L1238.0,600.0 L1244.0,604.0 L1245.0,609.0 L1270.0,609.6 L1292.0,633.0"/><path d="M1192.0,604.0 L1191.0,610.0 L1198.0,618.0 L1202.0,626.0 L1208.0,634.0 L1216.0,642.0 L1222.0,650.0 L1228.0,656.0 L1232.0,662.0 L1236.0,670.0 L1238.0,678.0 L1242.0,680.0"/><path d="M1143.0,604.0 L1146.0,620.0 L1149.0,640.0 L1152.0,656.0 L1156.0,670.0 L1159.0,678.0 L1155.0,686.0 L1155.0,706.0 L1158.0,712.0 L1157.0,717.0"/><path d="M1090.0,603.6 L1088.0,640.0 L1085.0,680.0 L1083.0,700.0 L1085.6,725.6"/><path d="M1018.0,700.0 L1018.0,708.4 L1058.0,709.0 L1059.0,720.0 L1061.0,733.0"/><path d="M1101.5,709.6 L1155.6,709.6"/><path d="M1102.4,726.0 L1103.0,720.0 L1102.0,709.0"/><path d="M1157.0,717.0 L1216.0,721.6 L1217.0,726.0 L1219.6,725.0 L1220.0,716.0 L1225.0,714.4 L1231.0,717.0"/><path d="M530.0,600.0 L534.0,606.0 L538.0,614.0 L542.0,620.0 L543.0,625.0 L538.0,628.0 L534.0,634.0 L533.0,640.0 L531.0,648.0 L530.0,655.0 L533.0,659.0 L535.0,660.0 L534.0,663.0 L529.0,665.0"/><path d="M360.5,235.5 L941.6,235.4 L941.6,226.0 L951.0,226.0 L953.0,240.0 L960.0,243.0 L968.0,245.0 L974.0,247.0 L980.0,244.4 L989.0,245.6 L997.0,250.0 L1002.0,254.0 L1008.0,253.0 L1016.0,258.0 L1022.0,259.0 L1032.0,255.0 L1038.0,258.0 L1048.0,259.0 L1056.0,261.0 L1063.6,261.6 L1052.0,267.0 L1040.0,272.4 L1028.0,280.0 L1016.0,289.0 L1008.0,294.4 L1003.0,297.0 L1012.0,294.4 L1022.0,292.4 L1030.0,289.6 L1034.0,295.0 L1039.0,297.0 L1046.0,295.6 L1048.0,298.0 L1056.8,291.2 L1065.2,290.0 L1073.6,284.5 L1082.0,278.6 L1090.4,275.6 L1098.9,275.2 L1100.2,277.7 L1093.8,281.1 L1087.9,286.2 L1084.6,291.2 L1084.6,294.6 L1088.8,290.4 L1095.5,290.4 L1101.4,292.0 L1104.7,296.2 L1107.3,299.6 L1114.0,300.4 L1120.7,303.0 L1127.4,298.8 L1134.2,296.2 L1142.6,296.2 L1151.0,294.6 L1157.7,294.1 L1158.6,296.2 L1157.7,301.3 L1164.4,302.1 L1172.8,301.3 L1175.4,303.0 L1174.5,308.0 L1176.2,312.2 L1179.6,314.7 L1172.8,314.7 L1164.4,314.7 L1161.9,317.3 L1157.7,314.7 L1152.7,312.6 L1145.9,313.1 L1139.2,314.7 L1134.2,315.6 L1129.1,317.3 L1125.8,320.6 L1122.4,324.0 L1119.9,318.1 L1115.7,317.3 L1114.0,320.6 L1115.7,332.4 L1112.3,337.4 L1108.1,344.2 L1104.7,352.6 L1102.2,361.0 L1099.7,371.1 L1098.0,380.0 L1097.0,390.0 L1099.0,400.0 L1100.0,410.0 L1102.0,418.0 L1105.0,425.0 L1109.0,428.0 L1116.0,427.0 L1122.0,423.0 L1126.0,417.0 L1130.0,410.0 L1132.0,400.0 L1130.0,390.0 L1127.0,380.0 L1124.1,376.1 L1124.9,367.7 L1127.4,359.3 L1130.0,352.6 L1131.6,347.5 L1137.5,343.3 L1142.6,340.8 L1147.6,334.1 L1154.3,330.7 L1157.7,329.0 L1156.0,325.7 L1159.4,320.6 L1161.9,318.1 L1167.8,320.6 L1174.5,324.8 L1181.3,328.2 L1188.0,332.4 L1192.2,337.4 L1193.0,340.8 L1190.5,344.2 L1192.2,350.9 L1191.3,357.6 L1188.0,362.7 L1182.9,366.0 L1179.6,367.7 L1178.2,372.8 L1181.3,377.0 L1184.6,377.8 L1188.0,373.6 L1192.2,368.6 L1198.1,365.7 L1203.1,366.0 L1206.5,370.2 L1208.2,377.8 L1208.0,376.0 L1209.0,385.0 L1210.4,393.0 L1208.0,400.0 L1204.0,404.0 L1200.0,408.0 L1196.0,414.0 L1194.0,420.0 L1190.0,425.0 L1188.0,427.0 L1194.0,430.0 L1200.0,433.0 L1209.0,435.0 L1218.0,433.0 L1226.0,432.0 L1234.0,427.0 L1242.0,423.0 L1250.0,420.0 L1260.0,416.0 L1268.0,412.0 L1276.0,407.0 L1283.0,402.0 L1286.0,398.0 L1282.4,393.0 L1282.0,388.0 L1286.0,385.0 L1298.0,383.6 L1308.0,385.0 L1313.0,388.0 L1320.0,387.0 L1328.0,385.0 L1335.0,380.0 L1340.0,377.0 L1340.0,370.0 L1338.0,365.0 L1342.0,362.0 L1348.0,357.0 L1350.6,351.6 L1361.3,344.1 L1370.9,340.5 L1401.8,340.5 L1440.1,339.9 L1442.2,334.5 L1446.5,332.4 L1456.1,329.2 L1459.3,323.9 L1465.7,318.6 L1467.8,309.0 L1471.0,301.5 L1474.2,294.1 L1480.6,285.6 L1487.0,277.0 L1490.1,274.9 L1493.3,276.6 L1495.5,281.3 L1501.9,280.2 L1509.3,278.1 L1514.6,280.2 L1520.0,286.6 L1520.6,302.6 L1520.6,321.8 L1527.4,325.0 L1527.4,332.4 L1532.7,335.6 L1534.9,340.9 L1535.9,346.3 L1529.5,350.5 L1523.2,353.7 L1514.6,358.0 L1508.2,356.9 L1501.9,359.0 L1497.6,353.7 L1493.3,360.1 L1489.1,366.5 L1482.7,368.6 L1476.3,373.9 L1469.9,375.0 L1465.7,379.3 L1461.4,385.7 L1457.1,392.0 L1456.1,396.3 L1454.2,399.0 L1457.3,403.5 L1456.9,406.1 L1453.3,407.9 L1450.1,410.2 L1451.0,413.8 L1455.1,414.2 L1458.7,416.5 L1460.9,420.9 L1462.7,425.4 L1458.7,426.8 L1454.2,429.9 L1449.7,432.2 L1445.2,433.9 L1440.7,435.7 L1436.2,436.2 L1431.7,436.4 L1422.8,437.1 L1413.8,438.4 L1406.6,440.7 L1400.4,442.9 L1395.0,444.3 L1390.5,447.4 L1386.9,452.8 L1382.9,459.1 L1383.0,459.5 L1388.7,476.0 L1385.0,482.2 L1380.0,487.1 L1376.3,492.1 L1372.6,497.0 L1370.2,500.1 L1366.5,498.2 L1362.8,494.5 L1359.1,490.8 L1357.2,486.5 L1356.6,482.2 L1354.1,478.5 L1355.4,484.7 L1357.8,492.1 L1360.9,498.2 L1364.0,503.2 L1366.5,508.1 L1366.5,513.0 L1365.2,518.0 L1362.8,524.1 L1359.1,530.3 L1355.4,534.0 L1351.7,540.2 L1348.0,546.3 L1346.1,549.4 L1345.5,553.7 L1348.0,556.2 L1349.2,559.9 L1353.0,574.0 L1356.0,583.0 L1352.0,590.0 L1346.0,596.0 L1340.0,602.0 L1338.0,609.0 L1330.0,612.0 L1320.0,617.0 L1312.0,624.0 L1307.0,630.0 L1304.0,633.0 L1296.0,634.0 L1288.0,637.0 L1282.0,644.0 L1278.0,651.0 L1272.0,658.0 L1264.0,664.0 L1256.0,670.0 L1249.0,675.0 L1245.0,681.0 L1240.0,688.0 L1236.0,696.0 L1233.0,704.0 L1231.0,710.0 L1231.0,717.0 L1233.0,726.0 L1236.0,738.0 L1240.0,750.0 L1244.0,762.0 L1248.0,774.0 L1251.0,784.0 L1255.0,796.0 L1259.0,808.0 L1261.6,820.0 L1261.6,832.0 L1260.0,844.0 L1257.0,852.0 L1254.0,859.0 L1250.0,862.0 L1242.0,864.0 L1238.0,863.0 L1237.0,859.0 L1234.0,852.0 L1230.0,846.0 L1224.0,843.0 L1222.0,836.0 L1218.0,830.0 L1215.0,822.0 L1212.0,816.0 L1209.0,809.0 L1206.0,800.0 L1203.0,792.0 L1204.0,784.0 L1205.0,776.0 L1205.6,768.0 L1204.0,762.0 L1199.0,757.0 L1194.0,752.0 L1188.0,744.0 L1183.0,738.0 L1178.0,734.0 L1173.0,734.0 L1169.0,738.0 L1162.0,740.0 L1155.0,742.4 L1149.0,744.0 L1147.6,739.0 L1145.0,734.0 L1140.0,730.0 L1134.0,726.0 L1126.0,724.0 L1118.0,725.0 L1110.0,727.0 L1100.0,730.0 L1110.0,725.0 L1100.0,726.0 L1096.0,727.0 L1093.6,714.0 L1092.0,727.0 L1086.0,726.0 L1076.0,725.0 L1066.0,727.0 L1062.0,734.4 L1068.0,733.0 L1069.0,738.0 L1064.0,743.0 L1058.0,747.0 L1063.0,758.0 L1065.0,764.0 L1071.0,762.0 L1072.0,758.0 L1066.0,756.0 L1060.0,751.0 L1056.0,753.0 L1050.0,758.0 L1044.0,755.0 L1038.0,758.0 L1030.0,756.0 L1024.0,751.0 L1018.0,745.0 L1012.0,741.0 L1005.0,742.0 L999.0,747.0 L992.0,744.0 L984.0,741.0 L973.0,741.0 L964.0,745.0 L954.0,750.0 L946.0,755.0 L938.0,762.0 L930.0,768.0 L922.0,772.0 L913.0,775.0 L906.0,780.0 L899.0,786.0 L897.0,792.0 L896.0,800.0 L894.0,808.0 L893.0,816.0 L895.0,824.0 L898.0,832.0 L901.0,840.0 L900.0,843.0 L892.0,843.0 L884.0,840.0 L876.0,838.0 L868.0,835.0 L860.0,831.0 L858.0,824.0 L853.0,815.0 L852.0,808.0 L850.0,800.0 L844.0,794.0 L838.0,786.0 L832.0,778.0 L827.0,768.0 L822.0,758.0 L816.0,750.0 L810.0,743.0 L804.0,741.6 L794.0,741.0 L786.0,743.0 L782.0,749.0 L779.0,758.0 L773.0,763.0 L766.0,761.0 L758.0,756.0 L750.0,750.0 L744.0,743.0 L741.0,734.0 L736.0,722.0 L728.0,712.0 L720.0,704.0 L712.0,700.0 L706.0,692.0 L700.0,686.0 L700.0,690.0 L668.0,690.0 L668.0,701.0 L607.0,701.0 L528.4,670.0 L529.0,665.0 L480.0,669.0 L478.0,662.0 L476.0,656.0 L472.0,651.0 L466.0,644.0 L460.0,639.0 L454.0,637.0 L450.0,632.0 L442.0,630.0 L436.0,627.0 L430.0,621.0 L422.0,619.0 L412.0,619.0 L407.0,615.0 L406.0,606.0 L400.0,596.0 L392.0,588.0 L385.0,578.0 L380.0,570.0 L379.0,562.0 L380.0,554.0 L374.0,548.0 L369.0,542.0 L368.0,534.0 L364.0,524.0 L357.0,523.0 L354.0,517.0 L350.0,510.0 L345.0,504.0 L341.0,497.0 L340.0,488.0 L338.0,480.0 L335.0,473.0 L330.0,467.0 L326.0,462.0 L327.0,454.0 L330.0,446.0 L332.0,440.0 L332.0,436.0 L331.0,428.0 L329.6,420.0 L328.0,412.0 L327.0,404.0 L323.6,398.0 L328.0,384.0 L331.0,368.0 L333.0,352.0 L335.0,336.0 L335.6,320.0 L336.0,308.0 L335.8,305.8 L335.3,300.7 L334.8,294.7 L333.3,288.6 L332.3,282.6 L329.3,278.5 L327.8,272.5 L325.7,267.4 L321.7,263.4 L319.7,258.3 L319.7,252.5 L321.4,250.8 L326.2,252.3 L334.3,254.8 L342.4,256.8 L353.5,258.3 L359.5,260.4 L360.5,264.4 L358.5,268.4 L355.0,273.5 L353.5,279.5 L355.0,284.6 L358.5,287.8 L363.6,286.1 L367.6,283.6 L370.6,280.5 L371.2,276.5 L371.9,270.5 L372.2,265.4 L374.2,261.4 L372.9,258.3 L370.6,254.3 L369.6,250.3 L369.1,245.2 L366.1,241.7 L361.1,239.2 L360.5,235.6Z" stroke-width="3.8"/><path d="M1386.9,456.4 L1389.6,454.6 L1395.9,451.4 L1403.0,448.7 L1410.2,446.7 L1417.4,444.9 L1421.9,442.5 L1425.9,443.1 L1423.7,445.6 L1428.2,444.9 L1434.4,443.8 L1434.6,445.8 L1430.0,448.5 L1422.8,452.1 L1413.8,454.9 L1406.6,457.1 L1398.6,458.6 L1390.5,460.4 L1384.2,461.3Z" stroke-width="4.2"/></g><g fill="none" stroke="#000" stroke-width="4.2" stroke-linejoin="round" stroke-linecap="round"><path d="M1351.1,479.1 L1345.5,484.1 L1339.3,489.0 L1333.8,492.1 L1333.4,497.0 L1334.2,503.2 L1333.2,509.3 L1331.9,514.3 L1333.8,516.1 L1339.3,518.0 L1338.7,526.6 L1338.1,535.2 L1339.3,545.1 L1341.8,551.3 L1345.5,553.7"/><path d="M1348.0,486.5 L1344.3,489.6 L1340.6,495.8 L1340.0,501.9 L1342.4,506.9 L1344.3,511.8 L1343.0,514.9 L1346.7,516.7 L1350.4,520.4 L1351.7,524.1 L1349.2,521.7 L1344.3,518.0 L1340.0,518.0 L1339.3,522.9 L1340.6,529.1 L1341.2,536.5 L1341.8,543.9 L1343.0,551.3"/><path d="M1308.5,482.2 L1312.2,492.1 L1318.4,495.8 L1325.8,499.5 L1327.0,501.9 L1322.1,505.6 L1317.8,511.8 L1319.6,515.5 L1324.5,514.3 L1330.7,518.0 L1335.6,519.2 L1339.3,519.2"/><path d="M1325.8,524.1 L1331.9,529.1 L1338.1,535.2"/><path d="M1328.2,537.7 L1334.4,541.4 L1339.3,545.1"/><path d="M1324.5,545.1 L1330.7,548.8 L1336.9,552.5 L1343.0,553.7"/><path d="M1356.6,526.6 L1352.9,531.5 L1349.2,537.7 L1347.4,543.9 L1346.7,548.2"/><path d="M1462.7,425.7 L1467.6,426.1 L1472.1,425.5 L1474.8,423.2 L1473.7,419.4 L1469.0,417.4"/></g><g fill="#000" stroke="#000" stroke-width="1.5" stroke-linejoin="round"><path d="M1143.4,337.4 L1147.6,334.9 L1150.1,338.3 L1150.1,344.2 L1147.6,348.4 L1143.9,347.5 L1142.6,342.5Z"/><path d="M1114.0,317.3 L1119.9,316.4 L1125.8,317.3 L1124.9,322.3 L1122.4,324.8 L1119.0,320.6 L1115.7,321.5Z"/><path d="M1329.0,570.0 L1333.0,569.0 L1335.0,575.0 L1342.0,572.0 L1346.0,575.0 L1340.0,579.0 L1346.0,583.0 L1342.0,587.0 L1335.0,582.0 L1330.0,580.0Z"/><path d="M1324.0,592.0 L1332.0,590.0 L1340.0,591.0 L1342.0,596.0 L1337.0,600.0 L1340.0,606.0 L1335.0,610.0 L1329.0,607.0 L1323.0,602.0 L1328.0,598.0Z"/><path d="M366.0,521.0 L373.0,520.0 L375.6,524.0 L372.0,528.0 L374.0,534.0 L379.6,539.0 L376.0,540.0 L370.0,536.0 L367.0,530.0Z"/><path d="M887.0,803.0 L892.0,801.0 L896.0,804.0 L895.6,809.0 L890.0,809.6 L887.6,807.0Z"/><path d="M893.0,791.0 L900.0,788.0 L908.0,779.0 L915.0,770.0 L921.0,769.0 L920.0,775.0 L912.0,779.0 L906.0,784.0 L900.0,791.0 L896.0,794.0Z"/><path d="M945.0,743.0 L952.0,739.6 L953.6,745.0 L950.0,750.0 L946.0,750.0Z"/><path d="M1201.0,788.0 L1206.0,787.0 L1212.0,790.0 L1213.0,796.0 L1208.0,800.0 L1203.0,796.0Z"/><path d="M1212.0,816.0 L1217.0,815.0 L1220.0,818.0 L1219.0,822.4 L1214.0,822.0Z"/><path d="M1237.0,859.0 L1241.0,858.0 L1244.0,861.0 L1242.0,864.4 L1238.0,863.6Z"/><path d="M352.5,244.7 L356.5,241.7 L360.5,241.7 L363.1,243.7 L366.1,241.7 L369.1,245.2 L369.6,250.3 L370.6,254.3 L372.9,258.3 L374.7,261.4 L372.2,265.4 L371.9,270.5 L372.2,276.5 L371.1,280.5 L367.6,284.6 L363.6,286.6 L358.5,288.6 L355.0,285.6 L352.5,279.5 L354.5,273.5 L358.0,267.4 L360.5,264.4 L360.5,260.4 L361.6,254.3 L360.5,251.3 L356.5,251.3 L353.0,249.3Z"/><path d="M1454.6,434.8 L1458.7,433.5 L1464.0,433.9 L1464.5,436.6 L1460.4,438.4 L1456.0,439.1Z"/><path d="M1467.2,437.5 L1471.2,435.6 L1475.2,437.5 L1474.8,440.7 L1470.3,441.6 L1467.6,440.2Z"/><path d="M1441.2,428.6 L1445.2,426.3 L1449.7,425.9 L1450.6,430.4 L1448.3,434.8 L1444.3,436.2 L1441.2,433.0Z"/></g><path d="M1200,878 Q1238,874 1258,857" fill="none" stroke="#f2ee00" stroke-width="2.4" stroke-dasharray="4 3"/></svg>
<div class="lt">Adult relative<br>pop. size<br>(peak)</div>
<div class="sw" style="top:406.90px;background:#4d4d4d"></div><div class="lb" style="top:406.90px">excl.-severe</div><div class="sw" style="top:432.37px;background:#b3b3b3"></div><div class="lb" style="top:432.37px">excl.-moderate</div><div class="sw" style="top:457.84px;background:#e5e5e5"></div><div class="lb" style="top:457.84px">other stages</div><div class="sw" style="top:483.31px;background:#0028d4"></div><div class="lb" style="top:483.31px">0 gens.</div><div class="sw" style="top:508.78px;background:#a82414"></div><div class="lb" style="top:508.78px">1 gens.</div><div class="sw" style="top:534.25px;background:#dcc400"></div><div class="lb" style="top:534.25px">2 gens.</div><div class="sw" style="top:559.72px;background:#27862b"></div><div class="lb" style="top:559.72px">3 gens.</div><div class="sw" style="top:585.19px;background:#a600a6"></div><div class="lb" style="top:585.19px">4 gens.</div><div class="sw" style="top:610.66px;background:#dc7414"></div><div class="lb" style="top:610.66px">5 gens.</div><div class="sw" style="top:636.13px;background:#00a6a6"></div><div class="lb" style="top:636.13px">6 gens.</div><div class="sw" style="top:661.60px;background:#5ca611"></div><div class="lb" style="top:661.60px">7 gens.</div><div class="sw" style="top:687.07px;background:#8a3cdc"></div><div class="lb" style="top:687.07px">8 gens.</div><div class="sw" style="top:712.54px;background:#a68b24"></div><div class="lb" style="top:712.54px">9 gens.</div><div class="sw" style="top:738.01px;background:#74aef0"></div><div class="lb" style="top:738.01px">10 gens.</div><div class="sw" style="top:763.48px;background:#f090ae"></div><div class="lb" style="top:763.48px">11 gens.</div>
</body></html>
